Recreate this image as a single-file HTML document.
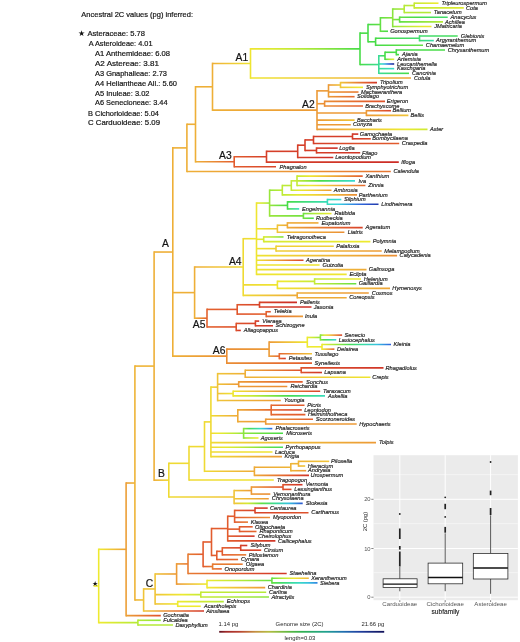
<!DOCTYPE html>
<html><head><meta charset="utf-8"><title>Ancestral 2C values</title>
<style>
html,body{margin:0;padding:0;background:#fff;}
body{width:520px;height:642px;overflow:hidden;}
svg{display:block;font-family:"Liberation Sans",sans-serif;will-change:transform;}
</style></head>
<body>
<svg width="520" height="642" viewBox="0 0 520 642">
<rect x="0" y="0" width="520" height="642" fill="#fff"/>
<!-- header legend -->
<g font-size="7.8" fill="#141414" stroke="#141414" stroke-width="0.2">
<text x="81.3" y="17.3" textLength="111.7" lengthAdjust="spacingAndGlyphs">Ancestral 2C values (pg) inferred:</text>
<text x="87.5" y="35.9" textLength="57.5" lengthAdjust="spacingAndGlyphs">Asteraceae:  5.78</text>
<text x="88.8" y="46.3" textLength="63.7" lengthAdjust="spacingAndGlyphs">A Asteroideae: 4.01</text>
<text x="95" y="56.2" textLength="75" lengthAdjust="spacingAndGlyphs">A1 Anthemideae: 6.08</text>
<text x="95" y="66" textLength="64" lengthAdjust="spacingAndGlyphs">A2 Astereae: 3.81</text>
<text x="95" y="76" textLength="72" lengthAdjust="spacingAndGlyphs">A3 Gnaphalieae: 2.73</text>
<text x="95" y="85.5" textLength="82" lengthAdjust="spacingAndGlyphs">A4 Heliantheae All.: 5.60</text>
<text x="95" y="95.8" textLength="54.5" lengthAdjust="spacingAndGlyphs">A5 Inuleae: 3.02</text>
<text x="95" y="105.3" textLength="72.5" lengthAdjust="spacingAndGlyphs">A6 Senecioneae: 3.44</text>
<text x="88" y="115.8" textLength="71" lengthAdjust="spacingAndGlyphs">B Cichorioideae: 5.04</text>
<text x="88" y="124.8" textLength="72" lengthAdjust="spacingAndGlyphs">C Carduoideae: 5.09</text>
</g>
<text x="78.1" y="35.9" font-size="7.8" fill="#111">&#9733;</text>

<defs><linearGradient id="g1" gradientUnits="userSpaceOnUse" x1="414.20" y1="0" x2="438.50" y2="0"><stop offset="0.00" stop-color="#c5ea36"/><stop offset="0.20" stop-color="#cdea35"/><stop offset="0.40" stop-color="#d5ea33"/><stop offset="0.60" stop-color="#ddea32"/><stop offset="0.80" stop-color="#e6ea31"/><stop offset="1.00" stop-color="#eeea30"/></linearGradient>
<linearGradient id="g2" gradientUnits="userSpaceOnUse" x1="414.20" y1="0" x2="463.80" y2="0"><stop offset="0.00" stop-color="#c5ea36"/><stop offset="0.20" stop-color="#caea35"/><stop offset="0.40" stop-color="#cfea34"/><stop offset="0.60" stop-color="#d3ea34"/><stop offset="0.80" stop-color="#d8ea33"/><stop offset="1.00" stop-color="#ddea32"/></linearGradient>
<linearGradient id="g3" gradientUnits="userSpaceOnUse" x1="404.20" y1="0" x2="414.20" y2="0"><stop offset="0.00" stop-color="#b4ea38"/><stop offset="0.20" stop-color="#b7ea38"/><stop offset="0.40" stop-color="#bbea37"/><stop offset="0.60" stop-color="#beea37"/><stop offset="0.80" stop-color="#c1ea36"/><stop offset="1.00" stop-color="#c5ea36"/></linearGradient>
<linearGradient id="g4" gradientUnits="userSpaceOnUse" x1="392.70" y1="0" x2="404.20" y2="0"><stop offset="0.00" stop-color="#8be53e"/><stop offset="0.20" stop-color="#94e63d"/><stop offset="0.40" stop-color="#9ce73c"/><stop offset="0.60" stop-color="#a4e83a"/><stop offset="0.80" stop-color="#ace939"/><stop offset="1.00" stop-color="#b4ea38"/></linearGradient>
<linearGradient id="g5" gradientUnits="userSpaceOnUse" x1="399.60" y1="0" x2="447.70" y2="0"><stop offset="0.00" stop-color="#63e044"/><stop offset="0.20" stop-color="#53dd46"/><stop offset="0.40" stop-color="#47dc4c"/><stop offset="0.60" stop-color="#45dc57"/><stop offset="0.80" stop-color="#44dc63"/><stop offset="1.00" stop-color="#42dc6e"/></linearGradient>
<linearGradient id="g6" gradientUnits="userSpaceOnUse" x1="399.60" y1="0" x2="443.00" y2="0"><stop offset="0.00" stop-color="#63e044"/><stop offset="0.20" stop-color="#73e242"/><stop offset="0.40" stop-color="#83e43f"/><stop offset="0.60" stop-color="#94e63d"/><stop offset="0.80" stop-color="#a4e83a"/><stop offset="1.00" stop-color="#b4ea38"/></linearGradient>
<linearGradient id="g7" gradientUnits="userSpaceOnUse" x1="392.70" y1="0" x2="399.60" y2="0"><stop offset="0.00" stop-color="#8be53e"/><stop offset="0.20" stop-color="#83e43f"/><stop offset="0.40" stop-color="#7be340"/><stop offset="0.60" stop-color="#73e242"/><stop offset="0.80" stop-color="#6be143"/><stop offset="1.00" stop-color="#63e044"/></linearGradient>
<linearGradient id="g8" gradientUnits="userSpaceOnUse" x1="392.70" y1="0" x2="431.50" y2="0"><stop offset="0.00" stop-color="#8be53e"/><stop offset="0.20" stop-color="#a9e93a"/><stop offset="0.40" stop-color="#c0ea36"/><stop offset="0.60" stop-color="#d2ea34"/><stop offset="0.80" stop-color="#e4ea31"/><stop offset="1.00" stop-color="#eee531"/></linearGradient>
<linearGradient id="g9" gradientUnits="userSpaceOnUse" x1="380.40" y1="0" x2="392.70" y2="0"><stop offset="0.00" stop-color="#63e044"/><stop offset="0.20" stop-color="#6be143"/><stop offset="0.40" stop-color="#73e242"/><stop offset="0.60" stop-color="#7be340"/><stop offset="0.80" stop-color="#83e43f"/><stop offset="1.00" stop-color="#8be53e"/></linearGradient>
<linearGradient id="g10" gradientUnits="userSpaceOnUse" x1="380.40" y1="0" x2="388.00" y2="0"><stop offset="0.00" stop-color="#63e044"/><stop offset="0.20" stop-color="#5edf45"/><stop offset="0.40" stop-color="#58de46"/><stop offset="0.60" stop-color="#53dd46"/><stop offset="0.80" stop-color="#4ddd47"/><stop offset="1.00" stop-color="#48dc48"/></linearGradient>
<linearGradient id="g11" gradientUnits="userSpaceOnUse" x1="368.00" y1="0" x2="380.40" y2="0"><stop offset="0.00" stop-color="#48dc48"/><stop offset="0.20" stop-color="#4ddd47"/><stop offset="0.40" stop-color="#53dd46"/><stop offset="0.60" stop-color="#58de46"/><stop offset="0.80" stop-color="#5edf45"/><stop offset="1.00" stop-color="#63e044"/></linearGradient>
<linearGradient id="g12" gradientUnits="userSpaceOnUse" x1="419.50" y1="0" x2="457.70" y2="0"><stop offset="0.00" stop-color="#42dc6e"/><stop offset="0.20" stop-color="#42dc6b"/><stop offset="0.40" stop-color="#43dc67"/><stop offset="0.60" stop-color="#44dc63"/><stop offset="0.80" stop-color="#44dc5f"/><stop offset="1.00" stop-color="#45dc5b"/></linearGradient>
<linearGradient id="g13" gradientUnits="userSpaceOnUse" x1="419.50" y1="0" x2="433.80" y2="0"><stop offset="0.00" stop-color="#42dc6e"/><stop offset="0.20" stop-color="#40dc7a"/><stop offset="0.40" stop-color="#3edc85"/><stop offset="0.60" stop-color="#3cdc91"/><stop offset="0.80" stop-color="#3adc9c"/><stop offset="1.00" stop-color="#38dca8"/></linearGradient>
<linearGradient id="g14" gradientUnits="userSpaceOnUse" x1="375.60" y1="0" x2="419.50" y2="0"><stop offset="0.00" stop-color="#48dc48"/><stop offset="0.20" stop-color="#47dc50"/><stop offset="0.40" stop-color="#45dc57"/><stop offset="0.60" stop-color="#44dc5f"/><stop offset="0.80" stop-color="#43dc67"/><stop offset="1.00" stop-color="#42dc6e"/></linearGradient>
<linearGradient id="g15" gradientUnits="userSpaceOnUse" x1="375.60" y1="0" x2="423.00" y2="0"><stop offset="0.00" stop-color="#48dc48"/><stop offset="0.20" stop-color="#4ddd47"/><stop offset="0.40" stop-color="#53dd46"/><stop offset="0.60" stop-color="#58de46"/><stop offset="0.80" stop-color="#5edf45"/><stop offset="1.00" stop-color="#63e044"/></linearGradient>
<linearGradient id="g16" gradientUnits="userSpaceOnUse" x1="385.00" y1="0" x2="394.20" y2="0"><stop offset="0.00" stop-color="#48dc48"/><stop offset="0.20" stop-color="#71e142"/><stop offset="0.40" stop-color="#99e63c"/><stop offset="0.60" stop-color="#bcea37"/><stop offset="0.80" stop-color="#d5ea33"/><stop offset="1.00" stop-color="#eeea30"/></linearGradient>
<linearGradient id="g17" gradientUnits="userSpaceOnUse" x1="378.80" y1="0" x2="385.00" y2="0"><stop offset="0.00" stop-color="#3bdc95"/><stop offset="0.20" stop-color="#3edc85"/><stop offset="0.40" stop-color="#40dc76"/><stop offset="0.60" stop-color="#43dc67"/><stop offset="0.80" stop-color="#45dc57"/><stop offset="1.00" stop-color="#48dc48"/></linearGradient>
<linearGradient id="g18" gradientUnits="userSpaceOnUse" x1="378.80" y1="0" x2="394.20" y2="0"><stop offset="0.00" stop-color="#3bdc95"/><stop offset="0.20" stop-color="#38daca"/><stop offset="0.40" stop-color="#35b2e0"/><stop offset="0.60" stop-color="#316ee0"/><stop offset="0.80" stop-color="#2748bd"/><stop offset="1.00" stop-color="#1c2a90"/></linearGradient>
<linearGradient id="g19" gradientUnits="userSpaceOnUse" x1="378.80" y1="0" x2="394.20" y2="0"><stop offset="0.00" stop-color="#3bdc95"/><stop offset="0.20" stop-color="#39dca0"/><stop offset="0.40" stop-color="#38dcac"/><stop offset="0.60" stop-color="#38dbb7"/><stop offset="0.80" stop-color="#38dac2"/><stop offset="1.00" stop-color="#38d9cd"/></linearGradient>
<linearGradient id="g20" gradientUnits="userSpaceOnUse" x1="378.80" y1="0" x2="409.00" y2="0"><stop offset="0.00" stop-color="#3bdc95"/><stop offset="0.20" stop-color="#3edc85"/><stop offset="0.40" stop-color="#40dc76"/><stop offset="0.60" stop-color="#43dc67"/><stop offset="0.80" stop-color="#45dc57"/><stop offset="1.00" stop-color="#48dc48"/></linearGradient>
<linearGradient id="g21" gradientUnits="userSpaceOnUse" x1="360.00" y1="0" x2="378.80" y2="0"><stop offset="0.00" stop-color="#48dc48"/><stop offset="0.20" stop-color="#45dc57"/><stop offset="0.40" stop-color="#43dc67"/><stop offset="0.60" stop-color="#40dc76"/><stop offset="0.80" stop-color="#3edc85"/><stop offset="1.00" stop-color="#3bdc95"/></linearGradient>
<linearGradient id="g22" gradientUnits="userSpaceOnUse" x1="250.50" y1="0" x2="360.00" y2="0"><stop offset="0.00" stop-color="#eee531"/><stop offset="0.20" stop-color="#dcea33"/><stop offset="0.40" stop-color="#c1ea36"/><stop offset="0.60" stop-color="#9ee73b"/><stop offset="0.80" stop-color="#73e242"/><stop offset="1.00" stop-color="#48dc48"/></linearGradient>
<linearGradient id="g23" gradientUnits="userSpaceOnUse" x1="250.50" y1="0" x2="411.00" y2="0"><stop offset="0.00" stop-color="#eee531"/><stop offset="0.20" stop-color="#efd834"/><stop offset="0.40" stop-color="#f0cb37"/><stop offset="0.60" stop-color="#efbe38"/><stop offset="0.80" stop-color="#eeb137"/><stop offset="1.00" stop-color="#eda436"/></linearGradient>
<linearGradient id="g24" gradientUnits="userSpaceOnUse" x1="212.50" y1="0" x2="250.50" y2="0"><stop offset="0.00" stop-color="#eeaf37"/><stop offset="0.20" stop-color="#efba38"/><stop offset="0.40" stop-color="#f0c438"/><stop offset="0.60" stop-color="#efcf36"/><stop offset="0.80" stop-color="#efda33"/><stop offset="1.00" stop-color="#eee531"/></linearGradient>
<linearGradient id="g25" gradientUnits="userSpaceOnUse" x1="340.50" y1="0" x2="377.00" y2="0"><stop offset="0.00" stop-color="#f0c438"/><stop offset="0.20" stop-color="#eda937"/><stop offset="0.40" stop-color="#ea8b34"/><stop offset="0.60" stop-color="#e46b30"/><stop offset="0.80" stop-color="#dc4f2c"/><stop offset="1.00" stop-color="#d03628"/></linearGradient>
<linearGradient id="g26" gradientUnits="userSpaceOnUse" x1="340.50" y1="0" x2="363.00" y2="0"><stop offset="0.00" stop-color="#f0c438"/><stop offset="0.20" stop-color="#f0cd36"/><stop offset="0.40" stop-color="#efd534"/><stop offset="0.60" stop-color="#efde33"/><stop offset="0.80" stop-color="#eee731"/><stop offset="1.00" stop-color="#e6ea31"/></linearGradient>
<linearGradient id="g27" gradientUnits="userSpaceOnUse" x1="328.50" y1="0" x2="340.50" y2="0"><stop offset="0.00" stop-color="#ec9a36"/><stop offset="0.20" stop-color="#eda236"/><stop offset="0.40" stop-color="#eeab37"/><stop offset="0.60" stop-color="#eeb337"/><stop offset="0.80" stop-color="#efbc38"/><stop offset="1.00" stop-color="#f0c438"/></linearGradient>
<linearGradient id="g28" gradientUnits="userSpaceOnUse" x1="328.50" y1="0" x2="358.50" y2="0"><stop offset="0.00" stop-color="#ec9a36"/><stop offset="0.20" stop-color="#eb9435"/><stop offset="0.40" stop-color="#ea8e34"/><stop offset="0.60" stop-color="#e98734"/><stop offset="0.80" stop-color="#e88133"/><stop offset="1.00" stop-color="#e77b32"/></linearGradient>
<linearGradient id="g29" gradientUnits="userSpaceOnUse" x1="328.50" y1="0" x2="354.60" y2="0"><stop offset="0.00" stop-color="#ec9a36"/><stop offset="0.20" stop-color="#ea9035"/><stop offset="0.40" stop-color="#e98633"/><stop offset="0.60" stop-color="#e77c32"/><stop offset="0.80" stop-color="#e67231"/><stop offset="1.00" stop-color="#e46830"/></linearGradient>
<linearGradient id="g30" gradientUnits="userSpaceOnUse" x1="324.60" y1="0" x2="385.00" y2="0"><stop offset="0.00" stop-color="#ea8e34"/><stop offset="0.20" stop-color="#e88133"/><stop offset="0.40" stop-color="#e67531"/><stop offset="0.60" stop-color="#e46830"/><stop offset="0.80" stop-color="#e25c2e"/><stop offset="1.00" stop-color="#de522c"/></linearGradient>
<linearGradient id="g31" gradientUnits="userSpaceOnUse" x1="324.60" y1="0" x2="363.00" y2="0"><stop offset="0.00" stop-color="#ea8e34"/><stop offset="0.20" stop-color="#e88433"/><stop offset="0.40" stop-color="#e77a32"/><stop offset="0.60" stop-color="#e57031"/><stop offset="0.80" stop-color="#e4662f"/><stop offset="1.00" stop-color="#e25c2e"/></linearGradient>
<linearGradient id="g32" gradientUnits="userSpaceOnUse" x1="317.00" y1="0" x2="324.60" y2="0"><stop offset="0.00" stop-color="#ec9a36"/><stop offset="0.20" stop-color="#ec9836"/><stop offset="0.40" stop-color="#eb9535"/><stop offset="0.60" stop-color="#eb9335"/><stop offset="0.80" stop-color="#ea9035"/><stop offset="1.00" stop-color="#ea8e34"/></linearGradient>
<linearGradient id="g33" gradientUnits="userSpaceOnUse" x1="366.40" y1="0" x2="391.00" y2="0"><stop offset="0.00" stop-color="#ec9a36"/><stop offset="0.20" stop-color="#e98734"/><stop offset="0.40" stop-color="#e67531"/><stop offset="0.60" stop-color="#e3622f"/><stop offset="0.80" stop-color="#de522c"/><stop offset="1.00" stop-color="#d7442a"/></linearGradient>
<linearGradient id="g34" gradientUnits="userSpaceOnUse" x1="366.40" y1="0" x2="408.40" y2="0"><stop offset="0.00" stop-color="#ec9a36"/><stop offset="0.20" stop-color="#eda236"/><stop offset="0.40" stop-color="#eeab37"/><stop offset="0.60" stop-color="#eeb337"/><stop offset="0.80" stop-color="#efbc38"/><stop offset="1.00" stop-color="#f0c438"/></linearGradient>
<linearGradient id="g35" gradientUnits="userSpaceOnUse" x1="317.00" y1="0" x2="354.60" y2="0"><stop offset="0.00" stop-color="#ec9a36"/><stop offset="0.20" stop-color="#eda236"/><stop offset="0.40" stop-color="#eeab37"/><stop offset="0.60" stop-color="#eeb337"/><stop offset="0.80" stop-color="#efbc38"/><stop offset="1.00" stop-color="#f0c438"/></linearGradient>
<linearGradient id="g36" gradientUnits="userSpaceOnUse" x1="317.00" y1="0" x2="427.50" y2="0"><stop offset="0.00" stop-color="#ec9a36"/><stop offset="0.20" stop-color="#eeae37"/><stop offset="0.40" stop-color="#f0c238"/><stop offset="0.60" stop-color="#efd634"/><stop offset="0.80" stop-color="#ecea30"/><stop offset="1.00" stop-color="#cdea35"/></linearGradient>
<linearGradient id="g37" gradientUnits="userSpaceOnUse" x1="212.50" y1="0" x2="317.00" y2="0"><stop offset="0.00" stop-color="#eeaf37"/><stop offset="0.20" stop-color="#eeab37"/><stop offset="0.40" stop-color="#eda737"/><stop offset="0.60" stop-color="#eda236"/><stop offset="0.80" stop-color="#ec9e36"/><stop offset="1.00" stop-color="#ec9a36"/></linearGradient>
<linearGradient id="g38" gradientUnits="userSpaceOnUse" x1="352.50" y1="0" x2="358.30" y2="0"><stop offset="0.00" stop-color="#d33a28"/><stop offset="0.20" stop-color="#d13828"/><stop offset="0.40" stop-color="#d03527"/><stop offset="0.60" stop-color="#cf3227"/><stop offset="0.80" stop-color="#cd2f26"/><stop offset="1.00" stop-color="#cc2c26"/></linearGradient>
<linearGradient id="g39" gradientUnits="userSpaceOnUse" x1="352.50" y1="0" x2="370.80" y2="0"><stop offset="0.00" stop-color="#d33a28"/><stop offset="0.20" stop-color="#d43d29"/><stop offset="0.40" stop-color="#d54029"/><stop offset="0.60" stop-color="#d7432a"/><stop offset="0.80" stop-color="#d8462a"/><stop offset="1.00" stop-color="#d9492b"/></linearGradient>
<linearGradient id="g40" gradientUnits="userSpaceOnUse" x1="313.50" y1="0" x2="399.20" y2="0"><stop offset="0.00" stop-color="#d53f29"/><stop offset="0.20" stop-color="#d7452a"/><stop offset="0.40" stop-color="#da4b2b"/><stop offset="0.60" stop-color="#dd502c"/><stop offset="0.80" stop-color="#df562d"/><stop offset="1.00" stop-color="#e25c2e"/></linearGradient>
<linearGradient id="g41" gradientUnits="userSpaceOnUse" x1="316.50" y1="0" x2="337.70" y2="0"><stop offset="0.00" stop-color="#d53f29"/><stop offset="0.20" stop-color="#d33b29"/><stop offset="0.40" stop-color="#d13828"/><stop offset="0.60" stop-color="#d03427"/><stop offset="0.80" stop-color="#ce3027"/><stop offset="1.00" stop-color="#cc2c26"/></linearGradient>
<linearGradient id="g42" gradientUnits="userSpaceOnUse" x1="316.50" y1="0" x2="360.20" y2="0"><stop offset="0.00" stop-color="#d53f29"/><stop offset="0.20" stop-color="#d43d29"/><stop offset="0.40" stop-color="#d33b29"/><stop offset="0.60" stop-color="#d23928"/><stop offset="0.80" stop-color="#d13828"/><stop offset="1.00" stop-color="#d03628"/></linearGradient>
<linearGradient id="g43" gradientUnits="userSpaceOnUse" x1="297.70" y1="0" x2="333.30" y2="0"><stop offset="0.00" stop-color="#d53f29"/><stop offset="0.20" stop-color="#d33b29"/><stop offset="0.40" stop-color="#d13828"/><stop offset="0.60" stop-color="#d03427"/><stop offset="0.80" stop-color="#ce3027"/><stop offset="1.00" stop-color="#cc2c26"/></linearGradient>
<linearGradient id="g44" gradientUnits="userSpaceOnUse" x1="266.50" y1="0" x2="398.80" y2="0"><stop offset="0.00" stop-color="#d53f29"/><stop offset="0.20" stop-color="#d33b29"/><stop offset="0.40" stop-color="#d13828"/><stop offset="0.60" stop-color="#d03427"/><stop offset="0.80" stop-color="#ce3027"/><stop offset="1.00" stop-color="#cc2c26"/></linearGradient>
<linearGradient id="g45" gradientUnits="userSpaceOnUse" x1="234.20" y1="0" x2="266.50" y2="0"><stop offset="0.00" stop-color="#e25c2e"/><stop offset="0.20" stop-color="#df562d"/><stop offset="0.40" stop-color="#dd502c"/><stop offset="0.60" stop-color="#da4b2b"/><stop offset="0.80" stop-color="#d7452a"/><stop offset="1.00" stop-color="#d53f29"/></linearGradient>
<linearGradient id="g46" gradientUnits="userSpaceOnUse" x1="234.20" y1="0" x2="276.00" y2="0"><stop offset="0.00" stop-color="#e25c2e"/><stop offset="0.20" stop-color="#e0572d"/><stop offset="0.40" stop-color="#de522c"/><stop offset="0.60" stop-color="#db4e2c"/><stop offset="0.80" stop-color="#d9492b"/><stop offset="1.00" stop-color="#d7442a"/></linearGradient>
<linearGradient id="g47" gradientUnits="userSpaceOnUse" x1="195.50" y1="0" x2="234.20" y2="0"><stop offset="0.00" stop-color="#eeaf37"/><stop offset="0.20" stop-color="#eda036"/><stop offset="0.40" stop-color="#ea9035"/><stop offset="0.60" stop-color="#e87f32"/><stop offset="0.80" stop-color="#e56d30"/><stop offset="1.00" stop-color="#e25c2e"/></linearGradient>
<linearGradient id="g48" gradientUnits="userSpaceOnUse" x1="186.90" y1="0" x2="390.80" y2="0"><stop offset="0.00" stop-color="#eeaf37"/><stop offset="0.20" stop-color="#eda436"/><stop offset="0.40" stop-color="#ec9a36"/><stop offset="0.60" stop-color="#ea8e34"/><stop offset="0.80" stop-color="#e88133"/><stop offset="1.00" stop-color="#e67531"/></linearGradient>
<linearGradient id="g49" gradientUnits="userSpaceOnUse" x1="297.00" y1="0" x2="362.70" y2="0"><stop offset="0.00" stop-color="#c5ea36"/><stop offset="0.20" stop-color="#eee531"/><stop offset="0.40" stop-color="#f0c438"/><stop offset="0.60" stop-color="#eda436"/><stop offset="0.80" stop-color="#e88133"/><stop offset="1.00" stop-color="#e25c2e"/></linearGradient>
<linearGradient id="g50" gradientUnits="userSpaceOnUse" x1="297.00" y1="0" x2="355.00" y2="0"><stop offset="0.00" stop-color="#c5ea36"/><stop offset="0.20" stop-color="#8be53e"/><stop offset="0.40" stop-color="#48dc48"/><stop offset="0.60" stop-color="#40dc78"/><stop offset="0.80" stop-color="#38dca8"/><stop offset="1.00" stop-color="#38d9d7"/></linearGradient>
<linearGradient id="g51" gradientUnits="userSpaceOnUse" x1="297.00" y1="0" x2="365.40" y2="0"><stop offset="0.00" stop-color="#c5ea36"/><stop offset="0.20" stop-color="#eee731"/><stop offset="0.40" stop-color="#f0c837"/><stop offset="0.60" stop-color="#eeab37"/><stop offset="0.80" stop-color="#ea8b34"/><stop offset="1.00" stop-color="#e46830"/></linearGradient>
<linearGradient id="g52" gradientUnits="userSpaceOnUse" x1="291.30" y1="0" x2="331.50" y2="0"><stop offset="0.00" stop-color="#c5ea36"/><stop offset="0.20" stop-color="#e6ea31"/><stop offset="0.40" stop-color="#efda33"/><stop offset="0.60" stop-color="#f0c438"/><stop offset="0.80" stop-color="#eeaf37"/><stop offset="1.00" stop-color="#ec9a36"/></linearGradient>
<linearGradient id="g53" gradientUnits="userSpaceOnUse" x1="282.30" y1="0" x2="357.00" y2="0"><stop offset="0.00" stop-color="#bcea37"/><stop offset="0.20" stop-color="#e2ea32"/><stop offset="0.40" stop-color="#efd934"/><stop offset="0.60" stop-color="#f0c038"/><stop offset="0.80" stop-color="#eda837"/><stop offset="1.00" stop-color="#ea8e34"/></linearGradient>
<linearGradient id="g54" gradientUnits="userSpaceOnUse" x1="269.60" y1="0" x2="282.30" y2="0"><stop offset="0.00" stop-color="#99e63c"/><stop offset="0.20" stop-color="#a1e83b"/><stop offset="0.40" stop-color="#a9e93a"/><stop offset="0.60" stop-color="#b1ea38"/><stop offset="0.80" stop-color="#b7ea38"/><stop offset="1.00" stop-color="#bcea37"/></linearGradient>
<linearGradient id="g55" gradientUnits="userSpaceOnUse" x1="327.40" y1="0" x2="341.30" y2="0"><stop offset="0.00" stop-color="#38dbbb"/><stop offset="0.20" stop-color="#38dac0"/><stop offset="0.40" stop-color="#38dac6"/><stop offset="0.60" stop-color="#38d9cb"/><stop offset="0.80" stop-color="#38d9d1"/><stop offset="1.00" stop-color="#38d9d7"/></linearGradient>
<linearGradient id="g56" gradientUnits="userSpaceOnUse" x1="327.40" y1="0" x2="378.50" y2="0"><stop offset="0.00" stop-color="#38dbbb"/><stop offset="0.20" stop-color="#38d6e0"/><stop offset="0.40" stop-color="#34a3e0"/><stop offset="0.60" stop-color="#3171e0"/><stop offset="0.80" stop-color="#2a51ca"/><stop offset="1.00" stop-color="#223aa8"/></linearGradient>
<linearGradient id="g57" gradientUnits="userSpaceOnUse" x1="287.50" y1="0" x2="327.40" y2="0"><stop offset="0.00" stop-color="#48dc48"/><stop offset="0.20" stop-color="#44dc5f"/><stop offset="0.40" stop-color="#40dc76"/><stop offset="0.60" stop-color="#3cdc8d"/><stop offset="0.80" stop-color="#39dca4"/><stop offset="1.00" stop-color="#38dbbb"/></linearGradient>
<linearGradient id="g58" gradientUnits="userSpaceOnUse" x1="287.50" y1="0" x2="299.20" y2="0"><stop offset="0.00" stop-color="#48dc48"/><stop offset="0.20" stop-color="#44dc5f"/><stop offset="0.40" stop-color="#40dc76"/><stop offset="0.60" stop-color="#3cdc8d"/><stop offset="0.80" stop-color="#39dca4"/><stop offset="1.00" stop-color="#38dbbb"/></linearGradient>
<linearGradient id="g59" gradientUnits="userSpaceOnUse" x1="269.60" y1="0" x2="287.50" y2="0"><stop offset="0.00" stop-color="#99e63c"/><stop offset="0.20" stop-color="#89e43e"/><stop offset="0.40" stop-color="#79e241"/><stop offset="0.60" stop-color="#68e043"/><stop offset="0.80" stop-color="#58de46"/><stop offset="1.00" stop-color="#48dc48"/></linearGradient>
<linearGradient id="g60" gradientUnits="userSpaceOnUse" x1="303.40" y1="0" x2="331.50" y2="0"><stop offset="0.00" stop-color="#71e142"/><stop offset="0.20" stop-color="#91e53d"/><stop offset="0.40" stop-color="#b1ea38"/><stop offset="0.60" stop-color="#c6ea35"/><stop offset="0.80" stop-color="#daea33"/><stop offset="1.00" stop-color="#eeea30"/></linearGradient>
<linearGradient id="g61" gradientUnits="userSpaceOnUse" x1="303.40" y1="0" x2="313.80" y2="0"><stop offset="0.00" stop-color="#71e142"/><stop offset="0.20" stop-color="#68e043"/><stop offset="0.40" stop-color="#60df44"/><stop offset="0.60" stop-color="#58de46"/><stop offset="0.80" stop-color="#50dd47"/><stop offset="1.00" stop-color="#48dc48"/></linearGradient>
<linearGradient id="g62" gradientUnits="userSpaceOnUse" x1="269.60" y1="0" x2="303.40" y2="0"><stop offset="0.00" stop-color="#99e63c"/><stop offset="0.20" stop-color="#91e53d"/><stop offset="0.40" stop-color="#89e43e"/><stop offset="0.60" stop-color="#81e340"/><stop offset="0.80" stop-color="#79e241"/><stop offset="1.00" stop-color="#71e142"/></linearGradient>
<linearGradient id="g63" gradientUnits="userSpaceOnUse" x1="256.50" y1="0" x2="269.60" y2="0"><stop offset="0.00" stop-color="#eee531"/><stop offset="0.20" stop-color="#e6ea31"/><stop offset="0.40" stop-color="#d5ea33"/><stop offset="0.60" stop-color="#c5ea36"/><stop offset="0.80" stop-color="#b4ea38"/><stop offset="1.00" stop-color="#99e63c"/></linearGradient>
<linearGradient id="g64" gradientUnits="userSpaceOnUse" x1="287.40" y1="0" x2="362.70" y2="0"><stop offset="0.00" stop-color="#eeaa37"/><stop offset="0.20" stop-color="#eb9636"/><stop offset="0.40" stop-color="#e88033"/><stop offset="0.60" stop-color="#e46a30"/><stop offset="0.80" stop-color="#df552d"/><stop offset="1.00" stop-color="#d7442a"/></linearGradient>
<linearGradient id="g65" gradientUnits="userSpaceOnUse" x1="277.40" y1="0" x2="287.40" y2="0"><stop offset="0.00" stop-color="#f0c438"/><stop offset="0.20" stop-color="#f0bf38"/><stop offset="0.40" stop-color="#efba38"/><stop offset="0.60" stop-color="#eeb437"/><stop offset="0.80" stop-color="#eeaf37"/><stop offset="1.00" stop-color="#eeaa37"/></linearGradient>
<linearGradient id="g66" gradientUnits="userSpaceOnUse" x1="277.40" y1="0" x2="344.40" y2="0"><stop offset="0.00" stop-color="#f0c438"/><stop offset="0.20" stop-color="#efba38"/><stop offset="0.40" stop-color="#eeaf37"/><stop offset="0.60" stop-color="#eda436"/><stop offset="0.80" stop-color="#ec9a36"/><stop offset="1.00" stop-color="#ea8e34"/></linearGradient>
<linearGradient id="g67" gradientUnits="userSpaceOnUse" x1="256.50" y1="0" x2="277.40" y2="0"><stop offset="0.00" stop-color="#eee531"/><stop offset="0.20" stop-color="#efde33"/><stop offset="0.40" stop-color="#efd834"/><stop offset="0.60" stop-color="#efd135"/><stop offset="0.80" stop-color="#f0cb37"/><stop offset="1.00" stop-color="#f0c438"/></linearGradient>
<linearGradient id="g68" gradientUnits="userSpaceOnUse" x1="263.70" y1="0" x2="283.50" y2="0"><stop offset="0.00" stop-color="#d5ea33"/><stop offset="0.20" stop-color="#c8ea35"/><stop offset="0.40" stop-color="#bbea37"/><stop offset="0.60" stop-color="#a9e93a"/><stop offset="0.80" stop-color="#94e63d"/><stop offset="1.00" stop-color="#7ee340"/></linearGradient>
<linearGradient id="g69" gradientUnits="userSpaceOnUse" x1="263.70" y1="0" x2="370.40" y2="0"><stop offset="0.00" stop-color="#d5ea33"/><stop offset="0.20" stop-color="#daea33"/><stop offset="0.40" stop-color="#dfea32"/><stop offset="0.60" stop-color="#e4ea31"/><stop offset="0.80" stop-color="#e9ea31"/><stop offset="1.00" stop-color="#eeea30"/></linearGradient>
<linearGradient id="g70" gradientUnits="userSpaceOnUse" x1="256.50" y1="0" x2="263.70" y2="0"><stop offset="0.00" stop-color="#eee531"/><stop offset="0.20" stop-color="#eee930"/><stop offset="0.40" stop-color="#e9ea31"/><stop offset="0.60" stop-color="#e2ea32"/><stop offset="0.80" stop-color="#dcea33"/><stop offset="1.00" stop-color="#d5ea33"/></linearGradient>
<linearGradient id="g71" gradientUnits="userSpaceOnUse" x1="276.00" y1="0" x2="381.70" y2="0"><stop offset="0.00" stop-color="#efcf36"/><stop offset="0.20" stop-color="#f0c438"/><stop offset="0.40" stop-color="#efba38"/><stop offset="0.60" stop-color="#eeaf37"/><stop offset="0.80" stop-color="#eda436"/><stop offset="1.00" stop-color="#ec9a36"/></linearGradient>
<linearGradient id="g72" gradientUnits="userSpaceOnUse" x1="256.50" y1="0" x2="276.00" y2="0"><stop offset="0.00" stop-color="#eee531"/><stop offset="0.20" stop-color="#efe032"/><stop offset="0.40" stop-color="#efdc33"/><stop offset="0.60" stop-color="#efd834"/><stop offset="0.80" stop-color="#efd335"/><stop offset="1.00" stop-color="#efcf36"/></linearGradient>
<linearGradient id="g73" gradientUnits="userSpaceOnUse" x1="256.50" y1="0" x2="397.10" y2="0"><stop offset="0.00" stop-color="#eee531"/><stop offset="0.20" stop-color="#efd335"/><stop offset="0.40" stop-color="#f0c238"/><stop offset="0.60" stop-color="#eeb137"/><stop offset="0.80" stop-color="#eda036"/><stop offset="1.00" stop-color="#ea8e34"/></linearGradient>
<linearGradient id="g74" gradientUnits="userSpaceOnUse" x1="256.50" y1="0" x2="303.50" y2="0"><stop offset="0.00" stop-color="#eee531"/><stop offset="0.20" stop-color="#f0c538"/><stop offset="0.40" stop-color="#eda737"/><stop offset="0.60" stop-color="#e98533"/><stop offset="0.80" stop-color="#e3612f"/><stop offset="1.00" stop-color="#d7442a"/></linearGradient>
<linearGradient id="g75" gradientUnits="userSpaceOnUse" x1="256.50" y1="0" x2="366.50" y2="0"><stop offset="0.00" stop-color="#eee531"/><stop offset="0.20" stop-color="#efd934"/><stop offset="0.40" stop-color="#f0cd36"/><stop offset="0.60" stop-color="#f0c138"/><stop offset="0.80" stop-color="#efb537"/><stop offset="1.00" stop-color="#eeaa37"/></linearGradient>
<linearGradient id="g76" gradientUnits="userSpaceOnUse" x1="243.20" y1="0" x2="256.50" y2="0"><stop offset="0.00" stop-color="#efda33"/><stop offset="0.20" stop-color="#efdc33"/><stop offset="0.40" stop-color="#efde33"/><stop offset="0.60" stop-color="#efe032"/><stop offset="0.80" stop-color="#eee232"/><stop offset="1.00" stop-color="#eee531"/></linearGradient>
<linearGradient id="g77" gradientUnits="userSpaceOnUse" x1="314.60" y1="0" x2="361.00" y2="0"><stop offset="0.00" stop-color="#c5ea36"/><stop offset="0.20" stop-color="#cdea35"/><stop offset="0.40" stop-color="#d5ea33"/><stop offset="0.60" stop-color="#ddea32"/><stop offset="0.80" stop-color="#e6ea31"/><stop offset="1.00" stop-color="#eeea30"/></linearGradient>
<linearGradient id="g78" gradientUnits="userSpaceOnUse" x1="314.60" y1="0" x2="356.30" y2="0"><stop offset="0.00" stop-color="#c5ea36"/><stop offset="0.20" stop-color="#b7ea38"/><stop offset="0.40" stop-color="#a4e83a"/><stop offset="0.60" stop-color="#8ee53e"/><stop offset="0.80" stop-color="#79e241"/><stop offset="1.00" stop-color="#63e044"/></linearGradient>
<linearGradient id="g79" gradientUnits="userSpaceOnUse" x1="277.40" y1="0" x2="314.60" y2="0"><stop offset="0.00" stop-color="#eee531"/><stop offset="0.20" stop-color="#ecea30"/><stop offset="0.40" stop-color="#e2ea32"/><stop offset="0.60" stop-color="#d8ea33"/><stop offset="0.80" stop-color="#cfea34"/><stop offset="1.00" stop-color="#c5ea36"/></linearGradient>
<linearGradient id="g80" gradientUnits="userSpaceOnUse" x1="277.40" y1="0" x2="390.00" y2="0"><stop offset="0.00" stop-color="#eee531"/><stop offset="0.20" stop-color="#efd834"/><stop offset="0.40" stop-color="#f0cb37"/><stop offset="0.60" stop-color="#efbe38"/><stop offset="0.80" stop-color="#eeb137"/><stop offset="1.00" stop-color="#eda436"/></linearGradient>
<linearGradient id="g81" gradientUnits="userSpaceOnUse" x1="243.20" y1="0" x2="277.40" y2="0"><stop offset="0.00" stop-color="#efda33"/><stop offset="0.20" stop-color="#efdc33"/><stop offset="0.40" stop-color="#efde33"/><stop offset="0.60" stop-color="#efe032"/><stop offset="0.80" stop-color="#eee232"/><stop offset="1.00" stop-color="#eee531"/></linearGradient>
<linearGradient id="g82" gradientUnits="userSpaceOnUse" x1="297.20" y1="0" x2="368.80" y2="0"><stop offset="0.00" stop-color="#eeaa37"/><stop offset="0.20" stop-color="#eda737"/><stop offset="0.40" stop-color="#eda336"/><stop offset="0.60" stop-color="#eda036"/><stop offset="0.80" stop-color="#ec9d36"/><stop offset="1.00" stop-color="#ec9a36"/></linearGradient>
<linearGradient id="g83" gradientUnits="userSpaceOnUse" x1="243.20" y1="0" x2="297.20" y2="0"><stop offset="0.00" stop-color="#efda33"/><stop offset="0.20" stop-color="#efd035"/><stop offset="0.40" stop-color="#f0c638"/><stop offset="0.60" stop-color="#efbd38"/><stop offset="0.80" stop-color="#eeb337"/><stop offset="1.00" stop-color="#eeaa37"/></linearGradient>
<linearGradient id="g84" gradientUnits="userSpaceOnUse" x1="194.60" y1="0" x2="243.20" y2="0"><stop offset="0.00" stop-color="#eeaf37"/><stop offset="0.20" stop-color="#efb737"/><stop offset="0.40" stop-color="#f0c038"/><stop offset="0.60" stop-color="#f0c837"/><stop offset="0.80" stop-color="#efd135"/><stop offset="1.00" stop-color="#efda33"/></linearGradient>
<linearGradient id="g85" gradientUnits="userSpaceOnUse" x1="259.50" y1="0" x2="297.00" y2="0"><stop offset="0.00" stop-color="#d7442a"/><stop offset="0.20" stop-color="#d53f29"/><stop offset="0.40" stop-color="#d33a28"/><stop offset="0.60" stop-color="#d03628"/><stop offset="0.80" stop-color="#ce3127"/><stop offset="1.00" stop-color="#cc2c26"/></linearGradient>
<linearGradient id="g86" gradientUnits="userSpaceOnUse" x1="259.50" y1="0" x2="311.50" y2="0"><stop offset="0.00" stop-color="#d7442a"/><stop offset="0.20" stop-color="#d53f29"/><stop offset="0.40" stop-color="#d33a28"/><stop offset="0.60" stop-color="#d03628"/><stop offset="0.80" stop-color="#ce3127"/><stop offset="1.00" stop-color="#cc2c26"/></linearGradient>
<linearGradient id="g87" gradientUnits="userSpaceOnUse" x1="237.20" y1="0" x2="259.50" y2="0"><stop offset="0.00" stop-color="#e0572d"/><stop offset="0.20" stop-color="#de532d"/><stop offset="0.40" stop-color="#dc502c"/><stop offset="0.60" stop-color="#db4c2b"/><stop offset="0.80" stop-color="#d9482b"/><stop offset="1.00" stop-color="#d7442a"/></linearGradient>
<linearGradient id="g88" gradientUnits="userSpaceOnUse" x1="266.20" y1="0" x2="270.80" y2="0"><stop offset="0.00" stop-color="#e3622f"/><stop offset="0.20" stop-color="#e25e2e"/><stop offset="0.40" stop-color="#e25b2e"/><stop offset="0.60" stop-color="#e0582d"/><stop offset="0.80" stop-color="#df552d"/><stop offset="1.00" stop-color="#de522c"/></linearGradient>
<linearGradient id="g89" gradientUnits="userSpaceOnUse" x1="266.20" y1="0" x2="303.00" y2="0"><stop offset="0.00" stop-color="#e3622f"/><stop offset="0.20" stop-color="#e56d30"/><stop offset="0.40" stop-color="#e77932"/><stop offset="0.60" stop-color="#e88433"/><stop offset="0.80" stop-color="#ea8f35"/><stop offset="1.00" stop-color="#ec9a36"/></linearGradient>
<linearGradient id="g90" gradientUnits="userSpaceOnUse" x1="237.20" y1="0" x2="266.20" y2="0"><stop offset="0.00" stop-color="#e0572d"/><stop offset="0.20" stop-color="#e1592e"/><stop offset="0.40" stop-color="#e25b2e"/><stop offset="0.60" stop-color="#e25d2e"/><stop offset="0.80" stop-color="#e3602e"/><stop offset="1.00" stop-color="#e3622f"/></linearGradient>
<linearGradient id="g91" gradientUnits="userSpaceOnUse" x1="207.00" y1="0" x2="237.20" y2="0"><stop offset="0.00" stop-color="#e3622f"/><stop offset="0.20" stop-color="#e3602e"/><stop offset="0.40" stop-color="#e25d2e"/><stop offset="0.60" stop-color="#e25b2e"/><stop offset="0.80" stop-color="#e1592e"/><stop offset="1.00" stop-color="#e0572d"/></linearGradient>
<linearGradient id="g92" gradientUnits="userSpaceOnUse" x1="255.40" y1="0" x2="259.20" y2="0"><stop offset="0.00" stop-color="#d7442a"/><stop offset="0.20" stop-color="#d53f29"/><stop offset="0.40" stop-color="#d33a28"/><stop offset="0.60" stop-color="#d03628"/><stop offset="0.80" stop-color="#ce3127"/><stop offset="1.00" stop-color="#cc2c26"/></linearGradient>
<linearGradient id="g93" gradientUnits="userSpaceOnUse" x1="255.40" y1="0" x2="273.00" y2="0"><stop offset="0.00" stop-color="#d7442a"/><stop offset="0.20" stop-color="#d6412a"/><stop offset="0.40" stop-color="#d43e29"/><stop offset="0.60" stop-color="#d33b29"/><stop offset="0.80" stop-color="#d23828"/><stop offset="1.00" stop-color="#d03628"/></linearGradient>
<linearGradient id="g94" gradientUnits="userSpaceOnUse" x1="236.20" y1="0" x2="255.40" y2="0"><stop offset="0.00" stop-color="#de522c"/><stop offset="0.20" stop-color="#dc502c"/><stop offset="0.40" stop-color="#db4d2b"/><stop offset="0.60" stop-color="#da4a2b"/><stop offset="0.80" stop-color="#d8472a"/><stop offset="1.00" stop-color="#d7442a"/></linearGradient>
<linearGradient id="g95" gradientUnits="userSpaceOnUse" x1="236.20" y1="0" x2="240.80" y2="0"><stop offset="0.00" stop-color="#de522c"/><stop offset="0.20" stop-color="#da4b2b"/><stop offset="0.40" stop-color="#d7432a"/><stop offset="0.60" stop-color="#d33b29"/><stop offset="0.80" stop-color="#d03427"/><stop offset="1.00" stop-color="#cc2c26"/></linearGradient>
<linearGradient id="g96" gradientUnits="userSpaceOnUse" x1="207.00" y1="0" x2="236.20" y2="0"><stop offset="0.00" stop-color="#e3622f"/><stop offset="0.20" stop-color="#e25e2e"/><stop offset="0.40" stop-color="#e25b2e"/><stop offset="0.60" stop-color="#e0582d"/><stop offset="0.80" stop-color="#df552d"/><stop offset="1.00" stop-color="#de522c"/></linearGradient>
<linearGradient id="g97" gradientUnits="userSpaceOnUse" x1="194.60" y1="0" x2="207.00" y2="0"><stop offset="0.00" stop-color="#eeaf37"/><stop offset="0.20" stop-color="#eda136"/><stop offset="0.40" stop-color="#eb9335"/><stop offset="0.60" stop-color="#e88233"/><stop offset="0.80" stop-color="#e67231"/><stop offset="1.00" stop-color="#e3622f"/></linearGradient>
<linearGradient id="g98" gradientUnits="userSpaceOnUse" x1="320.40" y1="0" x2="342.10" y2="0"><stop offset="0.00" stop-color="#8be53e"/><stop offset="0.20" stop-color="#ddea32"/><stop offset="0.40" stop-color="#f0c937"/><stop offset="0.60" stop-color="#ec9f36"/><stop offset="0.80" stop-color="#e56f30"/><stop offset="1.00" stop-color="#d7442a"/></linearGradient>
<linearGradient id="g99" gradientUnits="userSpaceOnUse" x1="320.40" y1="0" x2="336.30" y2="0"><stop offset="0.00" stop-color="#8be53e"/><stop offset="0.20" stop-color="#55de46"/><stop offset="0.40" stop-color="#43dc65"/><stop offset="0.60" stop-color="#3ddc8b"/><stop offset="0.80" stop-color="#38dbb1"/><stop offset="1.00" stop-color="#38d9d7"/></linearGradient>
<linearGradient id="g100" gradientUnits="userSpaceOnUse" x1="307.30" y1="0" x2="320.40" y2="0"><stop offset="0.00" stop-color="#eeea30"/><stop offset="0.20" stop-color="#ddea32"/><stop offset="0.40" stop-color="#cdea35"/><stop offset="0.60" stop-color="#bcea37"/><stop offset="0.80" stop-color="#a6e83a"/><stop offset="1.00" stop-color="#8be53e"/></linearGradient>
<linearGradient id="g101" gradientUnits="userSpaceOnUse" x1="322.00" y1="0" x2="391.00" y2="0"><stop offset="0.00" stop-color="#eeea30"/><stop offset="0.20" stop-color="#a4e83a"/><stop offset="0.40" stop-color="#46dc55"/><stop offset="0.60" stop-color="#39dca4"/><stop offset="0.80" stop-color="#37c2e0"/><stop offset="1.00" stop-color="#3060e0"/></linearGradient>
<linearGradient id="g102" gradientUnits="userSpaceOnUse" x1="322.00" y1="0" x2="334.40" y2="0"><stop offset="0.00" stop-color="#eeea30"/><stop offset="0.20" stop-color="#efcf36"/><stop offset="0.40" stop-color="#eeb437"/><stop offset="0.60" stop-color="#ec9a36"/><stop offset="0.80" stop-color="#e77b32"/><stop offset="1.00" stop-color="#e25c2e"/></linearGradient>
<linearGradient id="g103" gradientUnits="userSpaceOnUse" x1="269.10" y1="0" x2="307.30" y2="0"><stop offset="0.00" stop-color="#ec9a36"/><stop offset="0.20" stop-color="#eeaa37"/><stop offset="0.40" stop-color="#efba38"/><stop offset="0.60" stop-color="#f0c937"/><stop offset="0.80" stop-color="#efda33"/><stop offset="1.00" stop-color="#eeea30"/></linearGradient>
<linearGradient id="g104" gradientUnits="userSpaceOnUse" x1="279.30" y1="0" x2="312.00" y2="0"><stop offset="0.00" stop-color="#e46830"/><stop offset="0.20" stop-color="#e77c32"/><stop offset="0.40" stop-color="#ea9035"/><stop offset="0.60" stop-color="#eda236"/><stop offset="0.80" stop-color="#eeb337"/><stop offset="1.00" stop-color="#f0c438"/></linearGradient>
<linearGradient id="g105" gradientUnits="userSpaceOnUse" x1="279.30" y1="0" x2="285.80" y2="0"><stop offset="0.00" stop-color="#e46830"/><stop offset="0.20" stop-color="#e25c2e"/><stop offset="0.40" stop-color="#de522c"/><stop offset="0.60" stop-color="#d9492b"/><stop offset="0.80" stop-color="#d53f29"/><stop offset="1.00" stop-color="#d03628"/></linearGradient>
<linearGradient id="g106" gradientUnits="userSpaceOnUse" x1="269.10" y1="0" x2="279.30" y2="0"><stop offset="0.00" stop-color="#ec9a36"/><stop offset="0.20" stop-color="#ea9035"/><stop offset="0.40" stop-color="#e98633"/><stop offset="0.60" stop-color="#e77c32"/><stop offset="0.80" stop-color="#e67231"/><stop offset="1.00" stop-color="#e46830"/></linearGradient>
<linearGradient id="g107" gradientUnits="userSpaceOnUse" x1="226.80" y1="0" x2="269.10" y2="0"><stop offset="0.00" stop-color="#ea8e34"/><stop offset="0.20" stop-color="#ea9035"/><stop offset="0.40" stop-color="#eb9335"/><stop offset="0.60" stop-color="#eb9535"/><stop offset="0.80" stop-color="#ec9836"/><stop offset="1.00" stop-color="#ec9a36"/></linearGradient>
<linearGradient id="g108" gradientUnits="userSpaceOnUse" x1="226.80" y1="0" x2="312.00" y2="0"><stop offset="0.00" stop-color="#ea8e34"/><stop offset="0.20" stop-color="#e88433"/><stop offset="0.40" stop-color="#e77a32"/><stop offset="0.60" stop-color="#e57031"/><stop offset="0.80" stop-color="#e4662f"/><stop offset="1.00" stop-color="#e25c2e"/></linearGradient>
<linearGradient id="g109" gradientUnits="userSpaceOnUse" x1="172.80" y1="0" x2="226.80" y2="0"><stop offset="0.00" stop-color="#eeaf37"/><stop offset="0.20" stop-color="#eda937"/><stop offset="0.40" stop-color="#eda236"/><stop offset="0.60" stop-color="#ec9c36"/><stop offset="0.80" stop-color="#eb9535"/><stop offset="1.00" stop-color="#ea8e34"/></linearGradient>
<linearGradient id="g110" gradientUnits="userSpaceOnUse" x1="301.20" y1="0" x2="383.50" y2="0"><stop offset="0.00" stop-color="#de522c"/><stop offset="0.20" stop-color="#db4d2b"/><stop offset="0.40" stop-color="#d8472a"/><stop offset="0.60" stop-color="#d6412a"/><stop offset="0.80" stop-color="#d33b29"/><stop offset="1.00" stop-color="#d03628"/></linearGradient>
<linearGradient id="g111" gradientUnits="userSpaceOnUse" x1="301.20" y1="0" x2="322.00" y2="0"><stop offset="0.00" stop-color="#de522c"/><stop offset="0.20" stop-color="#db4d2b"/><stop offset="0.40" stop-color="#d8472a"/><stop offset="0.60" stop-color="#d6412a"/><stop offset="0.80" stop-color="#d33b29"/><stop offset="1.00" stop-color="#d03628"/></linearGradient>
<linearGradient id="g112" gradientUnits="userSpaceOnUse" x1="245.20" y1="0" x2="301.20" y2="0"><stop offset="0.00" stop-color="#eeaf37"/><stop offset="0.20" stop-color="#ec9e36"/><stop offset="0.40" stop-color="#ea8b34"/><stop offset="0.60" stop-color="#e67732"/><stop offset="0.80" stop-color="#e3632f"/><stop offset="1.00" stop-color="#de522c"/></linearGradient>
<linearGradient id="g113" gradientUnits="userSpaceOnUse" x1="245.20" y1="0" x2="370.40" y2="0"><stop offset="0.00" stop-color="#eeaf37"/><stop offset="0.20" stop-color="#efba38"/><stop offset="0.40" stop-color="#f0c438"/><stop offset="0.60" stop-color="#efcf36"/><stop offset="0.80" stop-color="#efda33"/><stop offset="1.00" stop-color="#eee531"/></linearGradient>
<linearGradient id="g114" gradientUnits="userSpaceOnUse" x1="217.60" y1="0" x2="245.20" y2="0"><stop offset="0.00" stop-color="#f0c438"/><stop offset="0.20" stop-color="#f0c038"/><stop offset="0.40" stop-color="#efbc38"/><stop offset="0.60" stop-color="#efb737"/><stop offset="0.80" stop-color="#eeb337"/><stop offset="1.00" stop-color="#eeaf37"/></linearGradient>
<linearGradient id="g115" gradientUnits="userSpaceOnUse" x1="238.70" y1="0" x2="302.70" y2="0"><stop offset="0.00" stop-color="#ec9a36"/><stop offset="0.20" stop-color="#ea8e34"/><stop offset="0.40" stop-color="#e88133"/><stop offset="0.60" stop-color="#e67531"/><stop offset="0.80" stop-color="#e46830"/><stop offset="1.00" stop-color="#e25c2e"/></linearGradient>
<linearGradient id="g116" gradientUnits="userSpaceOnUse" x1="238.70" y1="0" x2="287.30" y2="0"><stop offset="0.00" stop-color="#ec9a36"/><stop offset="0.20" stop-color="#ec9836"/><stop offset="0.40" stop-color="#eb9535"/><stop offset="0.60" stop-color="#eb9335"/><stop offset="0.80" stop-color="#ea9035"/><stop offset="1.00" stop-color="#ea8e34"/></linearGradient>
<linearGradient id="g117" gradientUnits="userSpaceOnUse" x1="217.60" y1="0" x2="238.70" y2="0"><stop offset="0.00" stop-color="#f0c438"/><stop offset="0.20" stop-color="#efbc38"/><stop offset="0.40" stop-color="#eeb337"/><stop offset="0.60" stop-color="#eeab37"/><stop offset="0.80" stop-color="#eda236"/><stop offset="1.00" stop-color="#ec9a36"/></linearGradient>
<linearGradient id="g118" gradientUnits="userSpaceOnUse" x1="233.10" y1="0" x2="320.20" y2="0"><stop offset="0.00" stop-color="#eee531"/><stop offset="0.20" stop-color="#f0c538"/><stop offset="0.40" stop-color="#eda737"/><stop offset="0.60" stop-color="#e98533"/><stop offset="0.80" stop-color="#e3612f"/><stop offset="1.00" stop-color="#d7442a"/></linearGradient>
<linearGradient id="g119" gradientUnits="userSpaceOnUse" x1="233.10" y1="0" x2="325.00" y2="0"><stop offset="0.00" stop-color="#eee531"/><stop offset="0.20" stop-color="#c8ea35"/><stop offset="0.40" stop-color="#89e43e"/><stop offset="0.60" stop-color="#47dc50"/><stop offset="0.80" stop-color="#3edc85"/><stop offset="1.00" stop-color="#38dbbb"/></linearGradient>
<linearGradient id="g120" gradientUnits="userSpaceOnUse" x1="217.60" y1="0" x2="233.10" y2="0"><stop offset="0.00" stop-color="#f0c438"/><stop offset="0.20" stop-color="#f0cb37"/><stop offset="0.40" stop-color="#efd135"/><stop offset="0.60" stop-color="#efd834"/><stop offset="0.80" stop-color="#efde33"/><stop offset="1.00" stop-color="#eee531"/></linearGradient>
<linearGradient id="g121" gradientUnits="userSpaceOnUse" x1="217.60" y1="0" x2="280.80" y2="0"><stop offset="0.00" stop-color="#f0c438"/><stop offset="0.20" stop-color="#efbc38"/><stop offset="0.40" stop-color="#eeb337"/><stop offset="0.60" stop-color="#eeab37"/><stop offset="0.80" stop-color="#eda236"/><stop offset="1.00" stop-color="#ec9a36"/></linearGradient>
<linearGradient id="g122" gradientUnits="userSpaceOnUse" x1="210.90" y1="0" x2="217.60" y2="0"><stop offset="0.00" stop-color="#efda33"/><stop offset="0.20" stop-color="#efd534"/><stop offset="0.40" stop-color="#efd135"/><stop offset="0.60" stop-color="#f0cd36"/><stop offset="0.80" stop-color="#f0c837"/><stop offset="1.00" stop-color="#f0c438"/></linearGradient>
<linearGradient id="g123" gradientUnits="userSpaceOnUse" x1="271.20" y1="0" x2="304.50" y2="0"><stop offset="0.00" stop-color="#e46830"/><stop offset="0.20" stop-color="#e4662f"/><stop offset="0.40" stop-color="#e3632f"/><stop offset="0.60" stop-color="#e3612f"/><stop offset="0.80" stop-color="#e25e2e"/><stop offset="1.00" stop-color="#e25c2e"/></linearGradient>
<linearGradient id="g124" gradientUnits="userSpaceOnUse" x1="271.20" y1="0" x2="301.80" y2="0"><stop offset="0.00" stop-color="#e46830"/><stop offset="0.20" stop-color="#e3602e"/><stop offset="0.40" stop-color="#e0582d"/><stop offset="0.60" stop-color="#dd512c"/><stop offset="0.80" stop-color="#da4b2b"/><stop offset="1.00" stop-color="#d7442a"/></linearGradient>
<linearGradient id="g125" gradientUnits="userSpaceOnUse" x1="271.20" y1="0" x2="305.40" y2="0"><stop offset="0.00" stop-color="#e46830"/><stop offset="0.20" stop-color="#e4662f"/><stop offset="0.40" stop-color="#e3632f"/><stop offset="0.60" stop-color="#e3612f"/><stop offset="0.80" stop-color="#e25e2e"/><stop offset="1.00" stop-color="#e25c2e"/></linearGradient>
<linearGradient id="g126" gradientUnits="userSpaceOnUse" x1="237.80" y1="0" x2="271.20" y2="0"><stop offset="0.00" stop-color="#eeaa37"/><stop offset="0.20" stop-color="#ec9e36"/><stop offset="0.40" stop-color="#eb9135"/><stop offset="0.60" stop-color="#e88433"/><stop offset="0.80" stop-color="#e67631"/><stop offset="1.00" stop-color="#e46830"/></linearGradient>
<linearGradient id="g127" gradientUnits="userSpaceOnUse" x1="265.70" y1="0" x2="313.00" y2="0"><stop offset="0.00" stop-color="#ec9a36"/><stop offset="0.20" stop-color="#ea8e34"/><stop offset="0.40" stop-color="#e88133"/><stop offset="0.60" stop-color="#e67531"/><stop offset="0.80" stop-color="#e46830"/><stop offset="1.00" stop-color="#e25c2e"/></linearGradient>
<linearGradient id="g128" gradientUnits="userSpaceOnUse" x1="237.80" y1="0" x2="265.70" y2="0"><stop offset="0.00" stop-color="#eeaa37"/><stop offset="0.20" stop-color="#eda737"/><stop offset="0.40" stop-color="#eda336"/><stop offset="0.60" stop-color="#eda036"/><stop offset="0.80" stop-color="#ec9d36"/><stop offset="1.00" stop-color="#ec9a36"/></linearGradient>
<linearGradient id="g129" gradientUnits="userSpaceOnUse" x1="210.90" y1="0" x2="237.80" y2="0"><stop offset="0.00" stop-color="#efda33"/><stop offset="0.20" stop-color="#efd035"/><stop offset="0.40" stop-color="#f0c638"/><stop offset="0.60" stop-color="#efbd38"/><stop offset="0.80" stop-color="#eeb337"/><stop offset="1.00" stop-color="#eeaa37"/></linearGradient>
<linearGradient id="g130" gradientUnits="userSpaceOnUse" x1="243.60" y1="0" x2="272.30" y2="0"><stop offset="0.00" stop-color="#8be53e"/><stop offset="0.20" stop-color="#46dc54"/><stop offset="0.40" stop-color="#3cdc8f"/><stop offset="0.60" stop-color="#38daca"/><stop offset="0.80" stop-color="#35aae0"/><stop offset="1.00" stop-color="#3060e0"/></linearGradient>
<linearGradient id="g131" gradientUnits="userSpaceOnUse" x1="243.60" y1="0" x2="283.00" y2="0"><stop offset="0.00" stop-color="#8be53e"/><stop offset="0.20" stop-color="#7ee340"/><stop offset="0.40" stop-color="#70e142"/><stop offset="0.60" stop-color="#63e044"/><stop offset="0.80" stop-color="#56de46"/><stop offset="1.00" stop-color="#48dc48"/></linearGradient>
<linearGradient id="g132" gradientUnits="userSpaceOnUse" x1="243.60" y1="0" x2="258.50" y2="0"><stop offset="0.00" stop-color="#8be53e"/><stop offset="0.20" stop-color="#a6e83a"/><stop offset="0.40" stop-color="#bcea37"/><stop offset="0.60" stop-color="#cdea35"/><stop offset="0.80" stop-color="#ddea32"/><stop offset="1.00" stop-color="#eeea30"/></linearGradient>
<linearGradient id="g133" gradientUnits="userSpaceOnUse" x1="210.90" y1="0" x2="243.60" y2="0"><stop offset="0.00" stop-color="#efda33"/><stop offset="0.20" stop-color="#eee830"/><stop offset="0.40" stop-color="#dcea33"/><stop offset="0.60" stop-color="#c6ea35"/><stop offset="0.80" stop-color="#afe939"/><stop offset="1.00" stop-color="#8be53e"/></linearGradient>
<linearGradient id="g134" gradientUnits="userSpaceOnUse" x1="210.90" y1="0" x2="376.00" y2="0"><stop offset="0.00" stop-color="#efda33"/><stop offset="0.20" stop-color="#f0cd36"/><stop offset="0.40" stop-color="#f0c038"/><stop offset="0.60" stop-color="#eeb337"/><stop offset="0.80" stop-color="#eda737"/><stop offset="1.00" stop-color="#ec9a36"/></linearGradient>
<linearGradient id="g135" gradientUnits="userSpaceOnUse" x1="210.90" y1="0" x2="283.00" y2="0"><stop offset="0.00" stop-color="#efda33"/><stop offset="0.20" stop-color="#e6ea31"/><stop offset="0.40" stop-color="#c5ea36"/><stop offset="0.60" stop-color="#99e63c"/><stop offset="0.80" stop-color="#63e044"/><stop offset="1.00" stop-color="#45dc5b"/></linearGradient>
<linearGradient id="g136" gradientUnits="userSpaceOnUse" x1="210.90" y1="0" x2="272.50" y2="0"><stop offset="0.00" stop-color="#efda33"/><stop offset="0.20" stop-color="#efdc33"/><stop offset="0.40" stop-color="#efde33"/><stop offset="0.60" stop-color="#efe032"/><stop offset="0.80" stop-color="#eee232"/><stop offset="1.00" stop-color="#eee531"/></linearGradient>
<linearGradient id="g137" gradientUnits="userSpaceOnUse" x1="210.90" y1="0" x2="282.00" y2="0"><stop offset="0.00" stop-color="#efda33"/><stop offset="0.20" stop-color="#f0cd36"/><stop offset="0.40" stop-color="#f0c038"/><stop offset="0.60" stop-color="#eeb337"/><stop offset="0.80" stop-color="#eda737"/><stop offset="1.00" stop-color="#ec9a36"/></linearGradient>
<linearGradient id="g138" gradientUnits="userSpaceOnUse" x1="298.50" y1="0" x2="329.20" y2="0"><stop offset="0.00" stop-color="#eeb437"/><stop offset="0.20" stop-color="#efb737"/><stop offset="0.40" stop-color="#efbb38"/><stop offset="0.60" stop-color="#efbe38"/><stop offset="0.80" stop-color="#f0c138"/><stop offset="1.00" stop-color="#f0c438"/></linearGradient>
<linearGradient id="g139" gradientUnits="userSpaceOnUse" x1="298.50" y1="0" x2="305.20" y2="0"><stop offset="0.00" stop-color="#eeb437"/><stop offset="0.20" stop-color="#efb737"/><stop offset="0.40" stop-color="#efbb38"/><stop offset="0.60" stop-color="#efbe38"/><stop offset="0.80" stop-color="#f0c138"/><stop offset="1.00" stop-color="#f0c438"/></linearGradient>
<linearGradient id="g140" gradientUnits="userSpaceOnUse" x1="290.80" y1="0" x2="306.20" y2="0"><stop offset="0.00" stop-color="#eeb437"/><stop offset="0.20" stop-color="#eeaf37"/><stop offset="0.40" stop-color="#eeaa37"/><stop offset="0.60" stop-color="#eda436"/><stop offset="0.80" stop-color="#ec9f36"/><stop offset="1.00" stop-color="#ec9a36"/></linearGradient>
<linearGradient id="g141" gradientUnits="userSpaceOnUse" x1="254.40" y1="0" x2="290.80" y2="0"><stop offset="0.00" stop-color="#eeaa37"/><stop offset="0.20" stop-color="#eeac37"/><stop offset="0.40" stop-color="#eeae37"/><stop offset="0.60" stop-color="#eeb037"/><stop offset="0.80" stop-color="#eeb237"/><stop offset="1.00" stop-color="#eeb437"/></linearGradient>
<linearGradient id="g142" gradientUnits="userSpaceOnUse" x1="254.40" y1="0" x2="309.00" y2="0"><stop offset="0.00" stop-color="#eeaa37"/><stop offset="0.20" stop-color="#eb9335"/><stop offset="0.40" stop-color="#e77932"/><stop offset="0.60" stop-color="#e25e2e"/><stop offset="0.80" stop-color="#da4a2b"/><stop offset="1.00" stop-color="#d03628"/></linearGradient>
<linearGradient id="g143" gradientUnits="userSpaceOnUse" x1="204.50" y1="0" x2="254.40" y2="0"><stop offset="0.00" stop-color="#efda33"/><stop offset="0.20" stop-color="#efd035"/><stop offset="0.40" stop-color="#f0c638"/><stop offset="0.60" stop-color="#efbd38"/><stop offset="0.80" stop-color="#eeb337"/><stop offset="1.00" stop-color="#eeaa37"/></linearGradient>
<linearGradient id="g144" gradientUnits="userSpaceOnUse" x1="189.00" y1="0" x2="273.80" y2="0"><stop offset="0.00" stop-color="#efda33"/><stop offset="0.20" stop-color="#efdc33"/><stop offset="0.40" stop-color="#efde33"/><stop offset="0.60" stop-color="#efe032"/><stop offset="0.80" stop-color="#eee232"/><stop offset="1.00" stop-color="#eee531"/></linearGradient>
<linearGradient id="g145" gradientUnits="userSpaceOnUse" x1="283.00" y1="0" x2="302.50" y2="0"><stop offset="0.00" stop-color="#de522c"/><stop offset="0.20" stop-color="#db4d2b"/><stop offset="0.40" stop-color="#d8472a"/><stop offset="0.60" stop-color="#d6412a"/><stop offset="0.80" stop-color="#d33b29"/><stop offset="1.00" stop-color="#d03628"/></linearGradient>
<linearGradient id="g146" gradientUnits="userSpaceOnUse" x1="283.00" y1="0" x2="291.50" y2="0"><stop offset="0.00" stop-color="#de522c"/><stop offset="0.20" stop-color="#dc502c"/><stop offset="0.40" stop-color="#db4d2b"/><stop offset="0.60" stop-color="#da4a2b"/><stop offset="0.80" stop-color="#d8472a"/><stop offset="1.00" stop-color="#d7442a"/></linearGradient>
<linearGradient id="g147" gradientUnits="userSpaceOnUse" x1="251.40" y1="0" x2="283.00" y2="0"><stop offset="0.00" stop-color="#ec9a36"/><stop offset="0.20" stop-color="#ea8b34"/><stop offset="0.40" stop-color="#e77c32"/><stop offset="0.60" stop-color="#e56d30"/><stop offset="0.80" stop-color="#e25e2e"/><stop offset="1.00" stop-color="#de522c"/></linearGradient>
<linearGradient id="g148" gradientUnits="userSpaceOnUse" x1="251.40" y1="0" x2="270.30" y2="0"><stop offset="0.00" stop-color="#ec9a36"/><stop offset="0.20" stop-color="#ec9836"/><stop offset="0.40" stop-color="#eb9535"/><stop offset="0.60" stop-color="#eb9335"/><stop offset="0.80" stop-color="#ea9035"/><stop offset="1.00" stop-color="#ea8e34"/></linearGradient>
<linearGradient id="g149" gradientUnits="userSpaceOnUse" x1="234.10" y1="0" x2="251.40" y2="0"><stop offset="0.00" stop-color="#f0c438"/><stop offset="0.20" stop-color="#efbc38"/><stop offset="0.40" stop-color="#eeb337"/><stop offset="0.60" stop-color="#eeab37"/><stop offset="0.80" stop-color="#eda236"/><stop offset="1.00" stop-color="#ec9a36"/></linearGradient>
<linearGradient id="g150" gradientUnits="userSpaceOnUse" x1="234.10" y1="0" x2="268.80" y2="0"><stop offset="0.00" stop-color="#f0c438"/><stop offset="0.20" stop-color="#efbc38"/><stop offset="0.40" stop-color="#eeb337"/><stop offset="0.60" stop-color="#eeab37"/><stop offset="0.80" stop-color="#eda236"/><stop offset="1.00" stop-color="#ec9a36"/></linearGradient>
<linearGradient id="g151" gradientUnits="userSpaceOnUse" x1="234.10" y1="0" x2="302.70" y2="0"><stop offset="0.00" stop-color="#f0c438"/><stop offset="0.20" stop-color="#d5ea33"/><stop offset="0.40" stop-color="#63e044"/><stop offset="0.60" stop-color="#3bdc95"/><stop offset="0.80" stop-color="#36c0e0"/><stop offset="1.00" stop-color="#2c55d0"/></linearGradient>
<linearGradient id="g152" gradientUnits="userSpaceOnUse" x1="168.80" y1="0" x2="234.10" y2="0"><stop offset="0.00" stop-color="#efda33"/><stop offset="0.20" stop-color="#efd534"/><stop offset="0.40" stop-color="#efd135"/><stop offset="0.60" stop-color="#f0cd36"/><stop offset="0.80" stop-color="#f0c837"/><stop offset="1.00" stop-color="#f0c438"/></linearGradient>
<linearGradient id="g153" gradientUnits="userSpaceOnUse" x1="154.10" y1="0" x2="168.80" y2="0"><stop offset="0.00" stop-color="#eeaf37"/><stop offset="0.20" stop-color="#efb737"/><stop offset="0.40" stop-color="#f0c038"/><stop offset="0.60" stop-color="#f0c837"/><stop offset="0.80" stop-color="#efd135"/><stop offset="1.00" stop-color="#efda33"/></linearGradient>
<linearGradient id="g154" gradientUnits="userSpaceOnUse" x1="255.00" y1="0" x2="267.70" y2="0"><stop offset="0.00" stop-color="#d7442a"/><stop offset="0.20" stop-color="#d6412a"/><stop offset="0.40" stop-color="#d43e29"/><stop offset="0.60" stop-color="#d33b29"/><stop offset="0.80" stop-color="#d23828"/><stop offset="1.00" stop-color="#d03628"/></linearGradient>
<linearGradient id="g155" gradientUnits="userSpaceOnUse" x1="255.00" y1="0" x2="308.50" y2="0"><stop offset="0.00" stop-color="#d7442a"/><stop offset="0.20" stop-color="#d8472a"/><stop offset="0.40" stop-color="#da4a2b"/><stop offset="0.60" stop-color="#db4d2b"/><stop offset="0.80" stop-color="#dc502c"/><stop offset="1.00" stop-color="#de522c"/></linearGradient>
<linearGradient id="g156" gradientUnits="userSpaceOnUse" x1="234.60" y1="0" x2="255.00" y2="0"><stop offset="0.00" stop-color="#e25c2e"/><stop offset="0.20" stop-color="#e0572d"/><stop offset="0.40" stop-color="#de522c"/><stop offset="0.60" stop-color="#db4e2c"/><stop offset="0.80" stop-color="#d9492b"/><stop offset="1.00" stop-color="#d7442a"/></linearGradient>
<linearGradient id="g157" gradientUnits="userSpaceOnUse" x1="234.60" y1="0" x2="270.00" y2="0"><stop offset="0.00" stop-color="#e25c2e"/><stop offset="0.20" stop-color="#e4662f"/><stop offset="0.40" stop-color="#e57031"/><stop offset="0.60" stop-color="#e77a32"/><stop offset="0.80" stop-color="#e88433"/><stop offset="1.00" stop-color="#ea8e34"/></linearGradient>
<linearGradient id="g158" gradientUnits="userSpaceOnUse" x1="234.60" y1="0" x2="248.00" y2="0"><stop offset="0.00" stop-color="#e25c2e"/><stop offset="0.20" stop-color="#e3622f"/><stop offset="0.40" stop-color="#e46830"/><stop offset="0.60" stop-color="#e56f30"/><stop offset="0.80" stop-color="#e67531"/><stop offset="1.00" stop-color="#e77b32"/></linearGradient>
<linearGradient id="g159" gradientUnits="userSpaceOnUse" x1="239.50" y1="0" x2="256.50" y2="0"><stop offset="0.00" stop-color="#e25c2e"/><stop offset="0.20" stop-color="#e25e2e"/><stop offset="0.40" stop-color="#e3612f"/><stop offset="0.60" stop-color="#e3632f"/><stop offset="0.80" stop-color="#e4662f"/><stop offset="1.00" stop-color="#e46830"/></linearGradient>
<linearGradient id="g160" gradientUnits="userSpaceOnUse" x1="227.70" y1="0" x2="254.60" y2="0"><stop offset="0.00" stop-color="#e25c2e"/><stop offset="0.20" stop-color="#de542d"/><stop offset="0.40" stop-color="#db4d2b"/><stop offset="0.60" stop-color="#d7452a"/><stop offset="0.80" stop-color="#d43d29"/><stop offset="1.00" stop-color="#d03628"/></linearGradient>
<linearGradient id="g161" gradientUnits="userSpaceOnUse" x1="227.70" y1="0" x2="275.40" y2="0"><stop offset="0.00" stop-color="#e25c2e"/><stop offset="0.20" stop-color="#de542d"/><stop offset="0.40" stop-color="#db4d2b"/><stop offset="0.60" stop-color="#d7452a"/><stop offset="0.80" stop-color="#d43d29"/><stop offset="1.00" stop-color="#d03628"/></linearGradient>
<linearGradient id="g162" gradientUnits="userSpaceOnUse" x1="240.70" y1="0" x2="247.30" y2="0"><stop offset="0.00" stop-color="#d7442a"/><stop offset="0.20" stop-color="#d6412a"/><stop offset="0.40" stop-color="#d43e29"/><stop offset="0.60" stop-color="#d33b29"/><stop offset="0.80" stop-color="#d23828"/><stop offset="1.00" stop-color="#d03628"/></linearGradient>
<linearGradient id="g163" gradientUnits="userSpaceOnUse" x1="222.30" y1="0" x2="240.70" y2="0"><stop offset="0.00" stop-color="#e25c2e"/><stop offset="0.20" stop-color="#e0572d"/><stop offset="0.40" stop-color="#de522c"/><stop offset="0.60" stop-color="#db4e2c"/><stop offset="0.80" stop-color="#d9492b"/><stop offset="1.00" stop-color="#d7442a"/></linearGradient>
<linearGradient id="g164" gradientUnits="userSpaceOnUse" x1="222.30" y1="0" x2="246.20" y2="0"><stop offset="0.00" stop-color="#e25c2e"/><stop offset="0.20" stop-color="#e3622f"/><stop offset="0.40" stop-color="#e46830"/><stop offset="0.60" stop-color="#e56f30"/><stop offset="0.80" stop-color="#e67531"/><stop offset="1.00" stop-color="#e77b32"/></linearGradient>
<linearGradient id="g165" gradientUnits="userSpaceOnUse" x1="216.80" y1="0" x2="238.10" y2="0"><stop offset="0.00" stop-color="#e25c2e"/><stop offset="0.20" stop-color="#e25e2e"/><stop offset="0.40" stop-color="#e3612f"/><stop offset="0.60" stop-color="#e3632f"/><stop offset="0.80" stop-color="#e4662f"/><stop offset="1.00" stop-color="#e46830"/></linearGradient>
<linearGradient id="g166" gradientUnits="userSpaceOnUse" x1="212.60" y1="0" x2="221.80" y2="0"><stop offset="0.00" stop-color="#e77b32"/><stop offset="0.20" stop-color="#e67531"/><stop offset="0.40" stop-color="#e56f30"/><stop offset="0.60" stop-color="#e46830"/><stop offset="0.80" stop-color="#e3622f"/><stop offset="1.00" stop-color="#e25c2e"/></linearGradient>
<linearGradient id="g167" gradientUnits="userSpaceOnUse" x1="203.10" y1="0" x2="212.60" y2="0"><stop offset="0.00" stop-color="#e25c2e"/><stop offset="0.20" stop-color="#e3622f"/><stop offset="0.40" stop-color="#e46830"/><stop offset="0.60" stop-color="#e56f30"/><stop offset="0.80" stop-color="#e67531"/><stop offset="1.00" stop-color="#e77b32"/></linearGradient>
<linearGradient id="g168" gradientUnits="userSpaceOnUse" x1="188.00" y1="0" x2="203.10" y2="0"><stop offset="0.00" stop-color="#e77b32"/><stop offset="0.20" stop-color="#e67531"/><stop offset="0.40" stop-color="#e56f30"/><stop offset="0.60" stop-color="#e46830"/><stop offset="0.80" stop-color="#e3622f"/><stop offset="1.00" stop-color="#e25c2e"/></linearGradient>
<linearGradient id="g169" gradientUnits="userSpaceOnUse" x1="188.00" y1="0" x2="286.70" y2="0"><stop offset="0.00" stop-color="#e77b32"/><stop offset="0.20" stop-color="#e46b30"/><stop offset="0.40" stop-color="#e25b2e"/><stop offset="0.60" stop-color="#dc4f2c"/><stop offset="0.80" stop-color="#d6422a"/><stop offset="1.00" stop-color="#d03628"/></linearGradient>
<linearGradient id="g170" gradientUnits="userSpaceOnUse" x1="176.60" y1="0" x2="188.00" y2="0"><stop offset="0.00" stop-color="#ec9a36"/><stop offset="0.20" stop-color="#eb9435"/><stop offset="0.40" stop-color="#ea8e34"/><stop offset="0.60" stop-color="#e98734"/><stop offset="0.80" stop-color="#e88133"/><stop offset="1.00" stop-color="#e77b32"/></linearGradient>
<linearGradient id="g171" gradientUnits="userSpaceOnUse" x1="271.90" y1="0" x2="308.80" y2="0"><stop offset="0.00" stop-color="#63e044"/><stop offset="0.20" stop-color="#a1e83b"/><stop offset="0.40" stop-color="#cfea34"/><stop offset="0.60" stop-color="#eee631"/><stop offset="0.80" stop-color="#f0cd36"/><stop offset="1.00" stop-color="#eeb437"/></linearGradient>
<linearGradient id="g172" gradientUnits="userSpaceOnUse" x1="271.90" y1="0" x2="317.50" y2="0"><stop offset="0.00" stop-color="#63e044"/><stop offset="0.20" stop-color="#43dc65"/><stop offset="0.40" stop-color="#3bdc95"/><stop offset="0.60" stop-color="#38dac4"/><stop offset="0.80" stop-color="#36c0e0"/><stop offset="1.00" stop-color="#3284e0"/></linearGradient>
<linearGradient id="g173" gradientUnits="userSpaceOnUse" x1="207.00" y1="0" x2="271.90" y2="0"><stop offset="0.00" stop-color="#eeea30"/><stop offset="0.20" stop-color="#d8ea33"/><stop offset="0.40" stop-color="#c3ea36"/><stop offset="0.60" stop-color="#a9e93a"/><stop offset="0.80" stop-color="#86e43f"/><stop offset="1.00" stop-color="#63e044"/></linearGradient>
<linearGradient id="g174" gradientUnits="userSpaceOnUse" x1="207.00" y1="0" x2="265.20" y2="0"><stop offset="0.00" stop-color="#eeea30"/><stop offset="0.20" stop-color="#efda33"/><stop offset="0.40" stop-color="#f0c937"/><stop offset="0.60" stop-color="#efba38"/><stop offset="0.80" stop-color="#eeaa37"/><stop offset="1.00" stop-color="#ec9a36"/></linearGradient>
<linearGradient id="g175" gradientUnits="userSpaceOnUse" x1="176.60" y1="0" x2="207.00" y2="0"><stop offset="0.00" stop-color="#ec9a36"/><stop offset="0.20" stop-color="#eeaa37"/><stop offset="0.40" stop-color="#efba38"/><stop offset="0.60" stop-color="#f0c937"/><stop offset="0.80" stop-color="#efda33"/><stop offset="1.00" stop-color="#eeea30"/></linearGradient>
<linearGradient id="g176" gradientUnits="userSpaceOnUse" x1="155.10" y1="0" x2="176.60" y2="0"><stop offset="0.00" stop-color="#f0c438"/><stop offset="0.20" stop-color="#efbc38"/><stop offset="0.40" stop-color="#eeb337"/><stop offset="0.60" stop-color="#eeab37"/><stop offset="0.80" stop-color="#eda236"/><stop offset="1.00" stop-color="#ec9a36"/></linearGradient>
<linearGradient id="g177" gradientUnits="userSpaceOnUse" x1="200.80" y1="0" x2="266.20" y2="0"><stop offset="0.00" stop-color="#c5ea36"/><stop offset="0.20" stop-color="#c1ea36"/><stop offset="0.40" stop-color="#beea37"/><stop offset="0.60" stop-color="#bbea37"/><stop offset="0.80" stop-color="#b7ea38"/><stop offset="1.00" stop-color="#b4ea38"/></linearGradient>
<linearGradient id="g178" gradientUnits="userSpaceOnUse" x1="200.80" y1="0" x2="269.00" y2="0"><stop offset="0.00" stop-color="#c5ea36"/><stop offset="0.20" stop-color="#bcea37"/><stop offset="0.40" stop-color="#b4ea38"/><stop offset="0.60" stop-color="#a6e83a"/><stop offset="0.80" stop-color="#99e63c"/><stop offset="1.00" stop-color="#8be53e"/></linearGradient>
<linearGradient id="g179" gradientUnits="userSpaceOnUse" x1="155.10" y1="0" x2="200.80" y2="0"><stop offset="0.00" stop-color="#f0c438"/><stop offset="0.20" stop-color="#efd135"/><stop offset="0.40" stop-color="#efde33"/><stop offset="0.60" stop-color="#ecea30"/><stop offset="0.80" stop-color="#d8ea33"/><stop offset="1.00" stop-color="#c5ea36"/></linearGradient>
<linearGradient id="g180" gradientUnits="userSpaceOnUse" x1="177.70" y1="0" x2="223.80" y2="0"><stop offset="0.00" stop-color="#eeea30"/><stop offset="0.20" stop-color="#e2ea32"/><stop offset="0.40" stop-color="#d7ea33"/><stop offset="0.60" stop-color="#cbea35"/><stop offset="0.80" stop-color="#c0ea36"/><stop offset="1.00" stop-color="#b4ea38"/></linearGradient>
<linearGradient id="g181" gradientUnits="userSpaceOnUse" x1="155.10" y1="0" x2="177.70" y2="0"><stop offset="0.00" stop-color="#f0c438"/><stop offset="0.20" stop-color="#f0cc36"/><stop offset="0.40" stop-color="#efd335"/><stop offset="0.60" stop-color="#efdb33"/><stop offset="0.80" stop-color="#eee232"/><stop offset="1.00" stop-color="#eeea30"/></linearGradient>
<linearGradient id="g182" gradientUnits="userSpaceOnUse" x1="143.60" y1="0" x2="204.00" y2="0"><stop offset="0.00" stop-color="#f0c438"/><stop offset="0.20" stop-color="#eda937"/><stop offset="0.40" stop-color="#ea8b34"/><stop offset="0.60" stop-color="#e46b30"/><stop offset="0.80" stop-color="#dc4f2c"/><stop offset="1.00" stop-color="#d03628"/></linearGradient>
<linearGradient id="g183" gradientUnits="userSpaceOnUse" x1="134.90" y1="0" x2="143.60" y2="0"><stop offset="0.00" stop-color="#eeb437"/><stop offset="0.20" stop-color="#efb737"/><stop offset="0.40" stop-color="#efbb38"/><stop offset="0.60" stop-color="#efbe38"/><stop offset="0.80" stop-color="#f0c138"/><stop offset="1.00" stop-color="#f0c438"/></linearGradient>
<linearGradient id="g184" gradientUnits="userSpaceOnUse" x1="126.10" y1="0" x2="134.90" y2="0"><stop offset="0.00" stop-color="#ec9f36"/><stop offset="0.20" stop-color="#eda336"/><stop offset="0.40" stop-color="#eda837"/><stop offset="0.60" stop-color="#eeac37"/><stop offset="0.80" stop-color="#eeb037"/><stop offset="1.00" stop-color="#eeb437"/></linearGradient>
<linearGradient id="g185" gradientUnits="userSpaceOnUse" x1="126.10" y1="0" x2="160.80" y2="0"><stop offset="0.00" stop-color="#ec9f36"/><stop offset="0.20" stop-color="#ea9035"/><stop offset="0.40" stop-color="#e88033"/><stop offset="0.60" stop-color="#e57031"/><stop offset="0.80" stop-color="#e3602e"/><stop offset="1.00" stop-color="#de522c"/></linearGradient>
<linearGradient id="g186" gradientUnits="userSpaceOnUse" x1="98.70" y1="0" x2="126.10" y2="0"><stop offset="0.00" stop-color="#eeea30"/><stop offset="0.20" stop-color="#efdb33"/><stop offset="0.40" stop-color="#f0cc36"/><stop offset="0.60" stop-color="#efbd38"/><stop offset="0.80" stop-color="#eeae37"/><stop offset="1.00" stop-color="#ec9f36"/></linearGradient>
<linearGradient id="g187" gradientUnits="userSpaceOnUse" x1="137.90" y1="0" x2="160.80" y2="0"><stop offset="0.00" stop-color="#b4ea38"/><stop offset="0.20" stop-color="#ace939"/><stop offset="0.40" stop-color="#a4e83a"/><stop offset="0.60" stop-color="#9ce73c"/><stop offset="0.80" stop-color="#94e63d"/><stop offset="1.00" stop-color="#8be53e"/></linearGradient>
<linearGradient id="g188" gradientUnits="userSpaceOnUse" x1="98.70" y1="0" x2="137.90" y2="0"><stop offset="0.00" stop-color="#eeea30"/><stop offset="0.20" stop-color="#e2ea32"/><stop offset="0.40" stop-color="#d7ea33"/><stop offset="0.60" stop-color="#cbea35"/><stop offset="0.80" stop-color="#c0ea36"/><stop offset="1.00" stop-color="#b4ea38"/></linearGradient></defs>
<g stroke-width="1.60" fill="none">
<line x1="414.20" y1="3.20" x2="438.50" y2="3.20" stroke="url(#g1)"/>
<line x1="414.20" y1="7.88" x2="463.80" y2="7.88" stroke="url(#g2)"/>
<line x1="414.20" y1="2.40" x2="414.20" y2="8.68" stroke="#c5ea36"/>
<line x1="404.20" y1="5.54" x2="414.20" y2="5.54" stroke="url(#g3)"/>
<line x1="404.20" y1="12.55" x2="431.00" y2="12.55" stroke="#b4ea38"/>
<line x1="404.20" y1="4.74" x2="404.20" y2="13.35" stroke="#b4ea38"/>
<line x1="392.70" y1="9.04" x2="404.20" y2="9.04" stroke="url(#g4)"/>
<line x1="399.60" y1="17.22" x2="447.70" y2="17.22" stroke="url(#g5)"/>
<line x1="399.60" y1="21.90" x2="443.00" y2="21.90" stroke="url(#g6)"/>
<line x1="399.60" y1="16.42" x2="399.60" y2="22.70" stroke="#63e044"/>
<line x1="392.70" y1="19.56" x2="399.60" y2="19.56" stroke="url(#g7)"/>
<line x1="392.70" y1="26.57" x2="431.50" y2="26.57" stroke="url(#g8)"/>
<line x1="392.70" y1="8.24" x2="392.70" y2="27.38" stroke="#8be53e"/>
<line x1="380.40" y1="17.81" x2="392.70" y2="17.81" stroke="url(#g9)"/>
<line x1="380.40" y1="31.25" x2="388.00" y2="31.25" stroke="url(#g10)"/>
<line x1="380.40" y1="17.01" x2="380.40" y2="32.05" stroke="#63e044"/>
<line x1="368.00" y1="24.53" x2="380.40" y2="24.53" stroke="url(#g11)"/>
<line x1="419.50" y1="35.93" x2="457.70" y2="35.93" stroke="url(#g12)"/>
<line x1="419.50" y1="40.60" x2="433.80" y2="40.60" stroke="url(#g13)"/>
<line x1="419.50" y1="35.13" x2="419.50" y2="41.40" stroke="#42dc6e"/>
<line x1="375.60" y1="38.26" x2="419.50" y2="38.26" stroke="url(#g14)"/>
<line x1="375.60" y1="45.27" x2="423.00" y2="45.27" stroke="url(#g15)"/>
<line x1="375.60" y1="37.46" x2="375.60" y2="46.07" stroke="#48dc48"/>
<line x1="368.00" y1="41.77" x2="375.60" y2="41.77" stroke="#48dc48"/>
<line x1="368.00" y1="23.73" x2="368.00" y2="42.57" stroke="#48dc48"/>
<line x1="360.00" y1="33.15" x2="368.00" y2="33.15" stroke="#48dc48"/>
<line x1="396.30" y1="49.95" x2="445.00" y2="49.95" stroke="#48dc48"/>
<line x1="396.30" y1="54.62" x2="399.00" y2="54.62" stroke="#48dc48"/>
<line x1="396.30" y1="49.15" x2="396.30" y2="55.42" stroke="#48dc48"/>
<line x1="385.00" y1="52.29" x2="396.30" y2="52.29" stroke="#48dc48"/>
<line x1="385.00" y1="59.30" x2="394.20" y2="59.30" stroke="url(#g16)"/>
<line x1="385.00" y1="51.49" x2="385.00" y2="60.10" stroke="#48dc48"/>
<line x1="378.80" y1="55.79" x2="385.00" y2="55.79" stroke="url(#g17)"/>
<line x1="378.80" y1="63.98" x2="394.20" y2="63.98" stroke="url(#g18)"/>
<line x1="378.80" y1="68.65" x2="394.20" y2="68.65" stroke="url(#g19)"/>
<line x1="378.80" y1="73.33" x2="409.00" y2="73.33" stroke="url(#g20)"/>
<line x1="378.80" y1="54.99" x2="378.80" y2="74.12" stroke="#3bdc95"/>
<line x1="360.00" y1="64.56" x2="378.80" y2="64.56" stroke="url(#g21)"/>
<line x1="360.00" y1="32.35" x2="360.00" y2="65.36" stroke="#48dc48"/>
<line x1="250.50" y1="48.85" x2="360.00" y2="48.85" stroke="url(#g22)"/>
<line x1="250.50" y1="78.00" x2="411.00" y2="78.00" stroke="url(#g23)"/>
<line x1="250.50" y1="48.05" x2="250.50" y2="78.80" stroke="#eee531"/>
<line x1="212.50" y1="63.43" x2="250.50" y2="63.43" stroke="url(#g24)"/>
<line x1="340.50" y1="82.67" x2="377.00" y2="82.67" stroke="url(#g25)"/>
<line x1="340.50" y1="87.35" x2="363.00" y2="87.35" stroke="url(#g26)"/>
<line x1="340.50" y1="81.88" x2="340.50" y2="88.15" stroke="#f0c438"/>
<line x1="328.50" y1="85.01" x2="340.50" y2="85.01" stroke="url(#g27)"/>
<line x1="328.50" y1="92.03" x2="358.50" y2="92.03" stroke="url(#g28)"/>
<line x1="328.50" y1="96.70" x2="354.60" y2="96.70" stroke="url(#g29)"/>
<line x1="328.50" y1="84.21" x2="328.50" y2="97.50" stroke="#ec9a36"/>
<line x1="317.00" y1="90.86" x2="328.50" y2="90.86" stroke="#ec9a36"/>
<line x1="324.60" y1="101.38" x2="385.00" y2="101.38" stroke="url(#g30)"/>
<line x1="324.60" y1="106.05" x2="363.00" y2="106.05" stroke="url(#g31)"/>
<line x1="324.60" y1="100.58" x2="324.60" y2="106.85" stroke="#ea8e34"/>
<line x1="317.00" y1="103.71" x2="324.60" y2="103.71" stroke="url(#g32)"/>
<line x1="366.40" y1="110.72" x2="391.00" y2="110.72" stroke="url(#g33)"/>
<line x1="366.40" y1="115.40" x2="408.40" y2="115.40" stroke="url(#g34)"/>
<line x1="366.40" y1="109.92" x2="366.40" y2="116.20" stroke="#ec9a36"/>
<line x1="317.00" y1="113.06" x2="366.40" y2="113.06" stroke="#ec9a36"/>
<line x1="317.00" y1="120.08" x2="354.60" y2="120.08" stroke="url(#g35)"/>
<line x1="317.00" y1="124.75" x2="350.80" y2="124.75" stroke="#ec9a36"/>
<line x1="317.00" y1="129.42" x2="427.50" y2="129.42" stroke="url(#g36)"/>
<line x1="317.00" y1="90.06" x2="317.00" y2="130.22" stroke="#ec9a36"/>
<line x1="212.50" y1="110.14" x2="317.00" y2="110.14" stroke="url(#g37)"/>
<line x1="212.50" y1="62.63" x2="212.50" y2="110.94" stroke="#eeaf37"/>
<line x1="195.50" y1="86.78" x2="212.50" y2="86.78" stroke="#eeaf37"/>
<line x1="352.50" y1="134.10" x2="358.30" y2="134.10" stroke="url(#g38)"/>
<line x1="352.50" y1="138.77" x2="370.80" y2="138.77" stroke="url(#g39)"/>
<line x1="352.50" y1="133.30" x2="352.50" y2="139.57" stroke="#d33a28"/>
<line x1="313.50" y1="136.44" x2="352.50" y2="136.44" stroke="#d53f29"/>
<line x1="313.50" y1="143.45" x2="399.20" y2="143.45" stroke="url(#g40)"/>
<line x1="313.50" y1="135.64" x2="313.50" y2="144.25" stroke="#d53f29"/>
<line x1="305.00" y1="139.94" x2="313.50" y2="139.94" stroke="#d53f29"/>
<line x1="316.50" y1="148.12" x2="337.70" y2="148.12" stroke="url(#g41)"/>
<line x1="316.50" y1="152.80" x2="360.20" y2="152.80" stroke="url(#g42)"/>
<line x1="316.50" y1="147.32" x2="316.50" y2="153.60" stroke="#d53f29"/>
<line x1="305.00" y1="150.46" x2="316.50" y2="150.46" stroke="#d53f29"/>
<line x1="305.00" y1="139.14" x2="305.00" y2="151.26" stroke="#d53f29"/>
<line x1="297.70" y1="145.20" x2="305.00" y2="145.20" stroke="#d53f29"/>
<line x1="297.70" y1="157.47" x2="333.30" y2="157.47" stroke="url(#g43)"/>
<line x1="297.70" y1="144.40" x2="297.70" y2="158.28" stroke="#d53f29"/>
<line x1="266.50" y1="151.34" x2="297.70" y2="151.34" stroke="#d53f29"/>
<line x1="266.50" y1="162.15" x2="398.80" y2="162.15" stroke="url(#g44)"/>
<line x1="266.50" y1="150.54" x2="266.50" y2="162.95" stroke="#d53f29"/>
<line x1="234.20" y1="156.74" x2="266.50" y2="156.74" stroke="url(#g45)"/>
<line x1="234.20" y1="166.82" x2="276.00" y2="166.82" stroke="url(#g46)"/>
<line x1="234.20" y1="155.94" x2="234.20" y2="167.62" stroke="#e25c2e"/>
<line x1="195.50" y1="161.78" x2="234.20" y2="161.78" stroke="url(#g47)"/>
<line x1="195.50" y1="85.98" x2="195.50" y2="162.58" stroke="#eeaf37"/>
<line x1="186.90" y1="124.28" x2="195.50" y2="124.28" stroke="#eeaf37"/>
<line x1="186.90" y1="171.50" x2="390.80" y2="171.50" stroke="url(#g48)"/>
<line x1="186.90" y1="123.48" x2="186.90" y2="172.30" stroke="#eeaf37"/>
<line x1="172.80" y1="147.89" x2="186.90" y2="147.89" stroke="#eeaf37"/>
<line x1="297.00" y1="176.17" x2="362.70" y2="176.17" stroke="url(#g49)"/>
<line x1="297.00" y1="180.85" x2="355.00" y2="180.85" stroke="url(#g50)"/>
<line x1="297.00" y1="185.52" x2="365.40" y2="185.52" stroke="url(#g51)"/>
<line x1="297.00" y1="175.37" x2="297.00" y2="186.32" stroke="#c5ea36"/>
<line x1="291.30" y1="180.85" x2="297.00" y2="180.85" stroke="#c5ea36"/>
<line x1="291.30" y1="190.20" x2="331.50" y2="190.20" stroke="url(#g52)"/>
<line x1="291.30" y1="180.05" x2="291.30" y2="191.00" stroke="#c5ea36"/>
<line x1="282.30" y1="185.52" x2="291.30" y2="185.52" stroke="#bcea37"/>
<line x1="282.30" y1="194.87" x2="357.00" y2="194.87" stroke="url(#g53)"/>
<line x1="282.30" y1="184.72" x2="282.30" y2="195.67" stroke="#bcea37"/>
<line x1="269.60" y1="190.20" x2="282.30" y2="190.20" stroke="url(#g54)"/>
<line x1="327.40" y1="199.55" x2="341.30" y2="199.55" stroke="url(#g55)"/>
<line x1="327.40" y1="204.22" x2="378.50" y2="204.22" stroke="url(#g56)"/>
<line x1="327.40" y1="198.75" x2="327.40" y2="205.03" stroke="#38dbbb"/>
<line x1="287.50" y1="201.89" x2="327.40" y2="201.89" stroke="url(#g57)"/>
<line x1="287.50" y1="208.90" x2="299.20" y2="208.90" stroke="url(#g58)"/>
<line x1="287.50" y1="201.09" x2="287.50" y2="209.70" stroke="#48dc48"/>
<line x1="269.60" y1="205.39" x2="287.50" y2="205.39" stroke="url(#g59)"/>
<line x1="303.40" y1="213.57" x2="331.50" y2="213.57" stroke="url(#g60)"/>
<line x1="303.40" y1="218.25" x2="313.80" y2="218.25" stroke="url(#g61)"/>
<line x1="303.40" y1="212.77" x2="303.40" y2="219.05" stroke="#71e142"/>
<line x1="269.60" y1="215.91" x2="303.40" y2="215.91" stroke="url(#g62)"/>
<line x1="269.60" y1="189.40" x2="269.60" y2="216.71" stroke="#99e63c"/>
<line x1="256.50" y1="203.06" x2="269.60" y2="203.06" stroke="url(#g63)"/>
<line x1="287.40" y1="222.92" x2="318.50" y2="222.92" stroke="#eeaa37"/>
<line x1="287.40" y1="227.60" x2="362.70" y2="227.60" stroke="url(#g64)"/>
<line x1="287.40" y1="222.12" x2="287.40" y2="228.40" stroke="#eeaa37"/>
<line x1="277.40" y1="225.26" x2="287.40" y2="225.26" stroke="url(#g65)"/>
<line x1="277.40" y1="232.27" x2="344.40" y2="232.27" stroke="url(#g66)"/>
<line x1="277.40" y1="224.46" x2="277.40" y2="233.07" stroke="#f0c438"/>
<line x1="256.50" y1="228.77" x2="277.40" y2="228.77" stroke="url(#g67)"/>
<line x1="263.70" y1="236.95" x2="283.50" y2="236.95" stroke="url(#g68)"/>
<line x1="263.70" y1="241.62" x2="370.40" y2="241.62" stroke="url(#g69)"/>
<line x1="263.70" y1="236.15" x2="263.70" y2="242.42" stroke="#d5ea33"/>
<line x1="256.50" y1="239.29" x2="263.70" y2="239.29" stroke="url(#g70)"/>
<line x1="276.00" y1="246.30" x2="333.80" y2="246.30" stroke="#efcf36"/>
<line x1="276.00" y1="250.97" x2="381.70" y2="250.97" stroke="url(#g71)"/>
<line x1="276.00" y1="245.50" x2="276.00" y2="251.77" stroke="#efcf36"/>
<line x1="256.50" y1="248.64" x2="276.00" y2="248.64" stroke="url(#g72)"/>
<line x1="256.50" y1="255.65" x2="397.10" y2="255.65" stroke="url(#g73)"/>
<line x1="256.50" y1="260.32" x2="303.50" y2="260.32" stroke="url(#g74)"/>
<line x1="256.50" y1="265.00" x2="319.60" y2="265.00" stroke="#eee531"/>
<line x1="256.50" y1="269.67" x2="366.50" y2="269.67" stroke="url(#g75)"/>
<line x1="256.50" y1="274.35" x2="346.70" y2="274.35" stroke="#eee531"/>
<line x1="256.50" y1="202.26" x2="256.50" y2="275.15" stroke="#eee531"/>
<line x1="243.20" y1="238.70" x2="256.50" y2="238.70" stroke="url(#g76)"/>
<line x1="314.60" y1="279.02" x2="361.00" y2="279.02" stroke="url(#g77)"/>
<line x1="314.60" y1="283.70" x2="356.30" y2="283.70" stroke="url(#g78)"/>
<line x1="314.60" y1="278.22" x2="314.60" y2="284.50" stroke="#c5ea36"/>
<line x1="277.40" y1="281.36" x2="314.60" y2="281.36" stroke="url(#g79)"/>
<line x1="277.40" y1="288.38" x2="390.00" y2="288.38" stroke="url(#g80)"/>
<line x1="277.40" y1="280.56" x2="277.40" y2="289.18" stroke="#eee531"/>
<line x1="243.20" y1="284.87" x2="277.40" y2="284.87" stroke="url(#g81)"/>
<line x1="297.20" y1="293.05" x2="368.80" y2="293.05" stroke="url(#g82)"/>
<line x1="297.20" y1="297.72" x2="346.70" y2="297.72" stroke="#eeaa37"/>
<line x1="297.20" y1="292.25" x2="297.20" y2="298.52" stroke="#eeaa37"/>
<line x1="243.20" y1="295.39" x2="297.20" y2="295.39" stroke="url(#g83)"/>
<line x1="243.20" y1="237.90" x2="243.20" y2="296.19" stroke="#efda33"/>
<line x1="194.60" y1="267.05" x2="243.20" y2="267.05" stroke="url(#g84)"/>
<line x1="259.50" y1="302.40" x2="297.00" y2="302.40" stroke="url(#g85)"/>
<line x1="259.50" y1="307.07" x2="311.50" y2="307.07" stroke="url(#g86)"/>
<line x1="259.50" y1="301.60" x2="259.50" y2="307.88" stroke="#d7442a"/>
<line x1="237.20" y1="304.74" x2="259.50" y2="304.74" stroke="url(#g87)"/>
<line x1="266.20" y1="311.75" x2="270.80" y2="311.75" stroke="url(#g88)"/>
<line x1="266.20" y1="316.42" x2="303.00" y2="316.42" stroke="url(#g89)"/>
<line x1="266.20" y1="310.95" x2="266.20" y2="317.22" stroke="#e3622f"/>
<line x1="237.20" y1="314.09" x2="266.20" y2="314.09" stroke="url(#g90)"/>
<line x1="237.20" y1="303.94" x2="237.20" y2="314.89" stroke="#e0572d"/>
<line x1="207.00" y1="309.41" x2="237.20" y2="309.41" stroke="url(#g91)"/>
<line x1="255.40" y1="321.10" x2="259.20" y2="321.10" stroke="url(#g92)"/>
<line x1="255.40" y1="325.77" x2="273.00" y2="325.77" stroke="url(#g93)"/>
<line x1="255.40" y1="320.30" x2="255.40" y2="326.57" stroke="#d7442a"/>
<line x1="236.20" y1="323.44" x2="255.40" y2="323.44" stroke="url(#g94)"/>
<line x1="236.20" y1="330.45" x2="240.80" y2="330.45" stroke="url(#g95)"/>
<line x1="236.20" y1="322.64" x2="236.20" y2="331.25" stroke="#de522c"/>
<line x1="207.00" y1="326.94" x2="236.20" y2="326.94" stroke="url(#g96)"/>
<line x1="207.00" y1="308.61" x2="207.00" y2="327.74" stroke="#e3622f"/>
<line x1="194.60" y1="318.18" x2="207.00" y2="318.18" stroke="url(#g97)"/>
<line x1="194.60" y1="266.25" x2="194.60" y2="318.98" stroke="#eeaf37"/>
<line x1="172.80" y1="292.61" x2="194.60" y2="292.61" stroke="#eeaf37"/>
<line x1="320.40" y1="335.12" x2="342.10" y2="335.12" stroke="url(#g98)"/>
<line x1="320.40" y1="339.80" x2="336.30" y2="339.80" stroke="url(#g99)"/>
<line x1="320.40" y1="334.32" x2="320.40" y2="340.60" stroke="#8be53e"/>
<line x1="307.30" y1="337.46" x2="320.40" y2="337.46" stroke="url(#g100)"/>
<line x1="322.00" y1="344.47" x2="391.00" y2="344.47" stroke="url(#g101)"/>
<line x1="322.00" y1="349.15" x2="334.40" y2="349.15" stroke="url(#g102)"/>
<line x1="322.00" y1="343.67" x2="322.00" y2="349.95" stroke="#eeea30"/>
<line x1="307.30" y1="346.81" x2="322.00" y2="346.81" stroke="#eeea30"/>
<line x1="307.30" y1="336.66" x2="307.30" y2="347.61" stroke="#eeea30"/>
<line x1="269.10" y1="342.14" x2="307.30" y2="342.14" stroke="url(#g103)"/>
<line x1="279.30" y1="353.82" x2="312.00" y2="353.82" stroke="url(#g104)"/>
<line x1="279.30" y1="358.50" x2="285.80" y2="358.50" stroke="url(#g105)"/>
<line x1="279.30" y1="353.02" x2="279.30" y2="359.30" stroke="#e46830"/>
<line x1="269.10" y1="356.16" x2="279.30" y2="356.16" stroke="url(#g106)"/>
<line x1="269.10" y1="341.34" x2="269.10" y2="356.96" stroke="#ec9a36"/>
<line x1="226.80" y1="349.15" x2="269.10" y2="349.15" stroke="url(#g107)"/>
<line x1="226.80" y1="363.17" x2="312.00" y2="363.17" stroke="url(#g108)"/>
<line x1="226.80" y1="348.35" x2="226.80" y2="363.97" stroke="#ea8e34"/>
<line x1="172.80" y1="356.16" x2="226.80" y2="356.16" stroke="url(#g109)"/>
<line x1="172.80" y1="147.09" x2="172.80" y2="356.96" stroke="#eeaf37"/>
<line x1="154.10" y1="252.03" x2="172.80" y2="252.03" stroke="#eeaf37"/>
<line x1="301.20" y1="367.85" x2="383.50" y2="367.85" stroke="url(#g110)"/>
<line x1="301.20" y1="372.52" x2="322.00" y2="372.52" stroke="url(#g111)"/>
<line x1="301.20" y1="367.05" x2="301.20" y2="373.32" stroke="#de522c"/>
<line x1="245.20" y1="370.19" x2="301.20" y2="370.19" stroke="url(#g112)"/>
<line x1="245.20" y1="377.20" x2="370.40" y2="377.20" stroke="url(#g113)"/>
<line x1="245.20" y1="369.39" x2="245.20" y2="378.00" stroke="#eeaf37"/>
<line x1="217.60" y1="373.69" x2="245.20" y2="373.69" stroke="url(#g114)"/>
<line x1="238.70" y1="381.88" x2="302.70" y2="381.88" stroke="url(#g115)"/>
<line x1="238.70" y1="386.55" x2="287.30" y2="386.55" stroke="url(#g116)"/>
<line x1="238.70" y1="381.07" x2="238.70" y2="387.35" stroke="#ec9a36"/>
<line x1="217.60" y1="384.21" x2="238.70" y2="384.21" stroke="url(#g117)"/>
<line x1="233.10" y1="391.22" x2="320.20" y2="391.22" stroke="url(#g118)"/>
<line x1="233.10" y1="395.90" x2="325.00" y2="395.90" stroke="url(#g119)"/>
<line x1="233.10" y1="390.42" x2="233.10" y2="396.70" stroke="#eee531"/>
<line x1="217.60" y1="393.56" x2="233.10" y2="393.56" stroke="url(#g120)"/>
<line x1="217.60" y1="400.57" x2="280.80" y2="400.57" stroke="url(#g121)"/>
<line x1="217.60" y1="372.89" x2="217.60" y2="401.38" stroke="#f0c438"/>
<line x1="210.90" y1="387.13" x2="217.60" y2="387.13" stroke="url(#g122)"/>
<line x1="271.20" y1="405.25" x2="304.50" y2="405.25" stroke="url(#g123)"/>
<line x1="271.20" y1="409.92" x2="301.80" y2="409.92" stroke="url(#g124)"/>
<line x1="271.20" y1="414.60" x2="305.40" y2="414.60" stroke="url(#g125)"/>
<line x1="271.20" y1="404.45" x2="271.20" y2="415.40" stroke="#e46830"/>
<line x1="237.80" y1="409.92" x2="271.20" y2="409.92" stroke="url(#g126)"/>
<line x1="265.70" y1="419.27" x2="313.00" y2="419.27" stroke="url(#g127)"/>
<line x1="265.70" y1="423.95" x2="356.70" y2="423.95" stroke="#ec9a36"/>
<line x1="265.70" y1="418.47" x2="265.70" y2="424.75" stroke="#ec9a36"/>
<line x1="237.80" y1="421.61" x2="265.70" y2="421.61" stroke="url(#g128)"/>
<line x1="237.80" y1="409.12" x2="237.80" y2="422.41" stroke="#eeaa37"/>
<line x1="210.90" y1="415.77" x2="237.80" y2="415.77" stroke="url(#g129)"/>
<line x1="243.60" y1="428.62" x2="272.30" y2="428.62" stroke="url(#g130)"/>
<line x1="243.60" y1="433.30" x2="283.00" y2="433.30" stroke="url(#g131)"/>
<line x1="243.60" y1="437.97" x2="258.50" y2="437.97" stroke="url(#g132)"/>
<line x1="243.60" y1="427.82" x2="243.60" y2="438.77" stroke="#8be53e"/>
<line x1="210.90" y1="433.30" x2="243.60" y2="433.30" stroke="url(#g133)"/>
<line x1="210.90" y1="442.65" x2="376.00" y2="442.65" stroke="url(#g134)"/>
<line x1="210.90" y1="447.32" x2="283.00" y2="447.32" stroke="url(#g135)"/>
<line x1="210.90" y1="452.00" x2="272.50" y2="452.00" stroke="url(#g136)"/>
<line x1="210.90" y1="456.67" x2="282.00" y2="456.67" stroke="url(#g137)"/>
<line x1="210.90" y1="386.33" x2="210.90" y2="457.47" stroke="#efda33"/>
<line x1="204.50" y1="421.90" x2="210.90" y2="421.90" stroke="#efda33"/>
<line x1="298.50" y1="461.35" x2="329.20" y2="461.35" stroke="url(#g138)"/>
<line x1="298.50" y1="466.02" x2="305.20" y2="466.02" stroke="url(#g139)"/>
<line x1="298.50" y1="460.55" x2="298.50" y2="466.82" stroke="#eeb437"/>
<line x1="290.80" y1="463.69" x2="298.50" y2="463.69" stroke="#eeb437"/>
<line x1="290.80" y1="470.70" x2="306.20" y2="470.70" stroke="url(#g140)"/>
<line x1="290.80" y1="462.89" x2="290.80" y2="471.50" stroke="#eeb437"/>
<line x1="254.40" y1="467.19" x2="290.80" y2="467.19" stroke="url(#g141)"/>
<line x1="254.40" y1="475.37" x2="309.00" y2="475.37" stroke="url(#g142)"/>
<line x1="254.40" y1="466.39" x2="254.40" y2="476.17" stroke="#eeaa37"/>
<line x1="204.50" y1="471.28" x2="254.40" y2="471.28" stroke="url(#g143)"/>
<line x1="204.50" y1="421.10" x2="204.50" y2="472.08" stroke="#efda33"/>
<line x1="189.00" y1="446.59" x2="204.50" y2="446.59" stroke="#efda33"/>
<line x1="189.00" y1="480.05" x2="273.80" y2="480.05" stroke="url(#g144)"/>
<line x1="189.00" y1="445.79" x2="189.00" y2="480.85" stroke="#efda33"/>
<line x1="168.80" y1="463.32" x2="189.00" y2="463.32" stroke="#efda33"/>
<line x1="283.00" y1="484.72" x2="302.50" y2="484.72" stroke="url(#g145)"/>
<line x1="283.00" y1="489.40" x2="291.50" y2="489.40" stroke="url(#g146)"/>
<line x1="283.00" y1="483.92" x2="283.00" y2="490.20" stroke="#de522c"/>
<line x1="251.40" y1="487.06" x2="283.00" y2="487.06" stroke="url(#g147)"/>
<line x1="251.40" y1="494.07" x2="270.30" y2="494.07" stroke="url(#g148)"/>
<line x1="251.40" y1="486.26" x2="251.40" y2="494.88" stroke="#ec9a36"/>
<line x1="234.10" y1="490.57" x2="251.40" y2="490.57" stroke="url(#g149)"/>
<line x1="234.10" y1="498.75" x2="268.80" y2="498.75" stroke="url(#g150)"/>
<line x1="234.10" y1="503.42" x2="302.70" y2="503.42" stroke="url(#g151)"/>
<line x1="234.10" y1="489.77" x2="234.10" y2="504.22" stroke="#f0c438"/>
<line x1="168.80" y1="497.00" x2="234.10" y2="497.00" stroke="url(#g152)"/>
<line x1="168.80" y1="462.52" x2="168.80" y2="497.80" stroke="#efda33"/>
<line x1="154.10" y1="480.16" x2="168.80" y2="480.16" stroke="url(#g153)"/>
<line x1="154.10" y1="251.23" x2="154.10" y2="480.96" stroke="#eeaf37"/>
<line x1="134.90" y1="366.09" x2="154.10" y2="366.09" stroke="#eeb437"/>
<line x1="255.00" y1="508.10" x2="267.70" y2="508.10" stroke="url(#g154)"/>
<line x1="255.00" y1="512.77" x2="308.50" y2="512.77" stroke="url(#g155)"/>
<line x1="255.00" y1="507.30" x2="255.00" y2="513.57" stroke="#d7442a"/>
<line x1="234.60" y1="510.44" x2="255.00" y2="510.44" stroke="url(#g156)"/>
<line x1="234.60" y1="517.45" x2="270.00" y2="517.45" stroke="url(#g157)"/>
<line x1="234.60" y1="522.12" x2="248.00" y2="522.12" stroke="url(#g158)"/>
<line x1="234.60" y1="509.64" x2="234.60" y2="522.92" stroke="#e25c2e"/>
<line x1="227.70" y1="516.28" x2="234.60" y2="516.28" stroke="#e25c2e"/>
<line x1="239.50" y1="526.80" x2="252.70" y2="526.80" stroke="#e25c2e"/>
<line x1="239.50" y1="531.48" x2="256.50" y2="531.48" stroke="url(#g159)"/>
<line x1="239.50" y1="526.00" x2="239.50" y2="532.27" stroke="#e25c2e"/>
<line x1="227.70" y1="529.14" x2="239.50" y2="529.14" stroke="#e25c2e"/>
<line x1="227.70" y1="536.15" x2="254.60" y2="536.15" stroke="url(#g160)"/>
<line x1="227.70" y1="540.83" x2="275.40" y2="540.83" stroke="url(#g161)"/>
<line x1="227.70" y1="515.48" x2="227.70" y2="541.62" stroke="#e25c2e"/>
<line x1="211.50" y1="528.55" x2="227.70" y2="528.55" stroke="#e25c2e"/>
<line x1="240.70" y1="545.50" x2="247.30" y2="545.50" stroke="url(#g162)"/>
<line x1="240.70" y1="550.18" x2="261.20" y2="550.18" stroke="#d7442a"/>
<line x1="240.70" y1="544.70" x2="240.70" y2="550.98" stroke="#d7442a"/>
<line x1="222.30" y1="547.84" x2="240.70" y2="547.84" stroke="url(#g163)"/>
<line x1="222.30" y1="554.85" x2="246.20" y2="554.85" stroke="url(#g164)"/>
<line x1="222.30" y1="547.04" x2="222.30" y2="555.65" stroke="#e25c2e"/>
<line x1="216.80" y1="551.34" x2="222.30" y2="551.34" stroke="#e25c2e"/>
<line x1="216.80" y1="559.52" x2="238.10" y2="559.52" stroke="url(#g165)"/>
<line x1="216.80" y1="550.54" x2="216.80" y2="560.32" stroke="#e25c2e"/>
<line x1="211.50" y1="555.43" x2="216.80" y2="555.43" stroke="#e25c2e"/>
<line x1="211.50" y1="527.75" x2="211.50" y2="556.23" stroke="#e25c2e"/>
<line x1="203.10" y1="541.99" x2="211.50" y2="541.99" stroke="#e25c2e"/>
<line x1="212.60" y1="564.20" x2="242.70" y2="564.20" stroke="#e77b32"/>
<line x1="212.60" y1="568.88" x2="221.80" y2="568.88" stroke="url(#g166)"/>
<line x1="212.60" y1="563.40" x2="212.60" y2="569.67" stroke="#e77b32"/>
<line x1="203.10" y1="566.54" x2="212.60" y2="566.54" stroke="url(#g167)"/>
<line x1="203.10" y1="541.19" x2="203.10" y2="567.34" stroke="#e25c2e"/>
<line x1="188.00" y1="554.27" x2="203.10" y2="554.27" stroke="url(#g168)"/>
<line x1="188.00" y1="573.55" x2="286.70" y2="573.55" stroke="url(#g169)"/>
<line x1="188.00" y1="553.47" x2="188.00" y2="574.35" stroke="#e77b32"/>
<line x1="176.60" y1="563.91" x2="188.00" y2="563.91" stroke="url(#g170)"/>
<line x1="271.90" y1="578.23" x2="308.80" y2="578.23" stroke="url(#g171)"/>
<line x1="271.90" y1="582.90" x2="317.50" y2="582.90" stroke="url(#g172)"/>
<line x1="271.90" y1="577.43" x2="271.90" y2="583.70" stroke="#63e044"/>
<line x1="207.00" y1="580.56" x2="271.90" y2="580.56" stroke="url(#g173)"/>
<line x1="207.00" y1="587.58" x2="265.20" y2="587.58" stroke="url(#g174)"/>
<line x1="207.00" y1="579.76" x2="207.00" y2="588.38" stroke="#eeea30"/>
<line x1="176.60" y1="584.07" x2="207.00" y2="584.07" stroke="url(#g175)"/>
<line x1="176.60" y1="563.11" x2="176.60" y2="584.87" stroke="#ec9a36"/>
<line x1="155.10" y1="573.99" x2="176.60" y2="573.99" stroke="url(#g176)"/>
<line x1="200.80" y1="592.25" x2="266.20" y2="592.25" stroke="url(#g177)"/>
<line x1="200.80" y1="596.93" x2="269.00" y2="596.93" stroke="url(#g178)"/>
<line x1="200.80" y1="591.45" x2="200.80" y2="597.73" stroke="#c5ea36"/>
<line x1="155.10" y1="594.59" x2="200.80" y2="594.59" stroke="url(#g179)"/>
<line x1="177.70" y1="601.60" x2="223.80" y2="601.60" stroke="url(#g180)"/>
<line x1="177.70" y1="606.27" x2="200.80" y2="606.27" stroke="#eeea30"/>
<line x1="177.70" y1="600.80" x2="177.70" y2="607.07" stroke="#eeea30"/>
<line x1="155.10" y1="603.94" x2="177.70" y2="603.94" stroke="url(#g181)"/>
<line x1="155.10" y1="573.19" x2="155.10" y2="604.74" stroke="#f0c438"/>
<line x1="143.60" y1="588.96" x2="155.10" y2="588.96" stroke="#f0c438"/>
<line x1="143.60" y1="610.95" x2="204.00" y2="610.95" stroke="url(#g182)"/>
<line x1="143.60" y1="588.16" x2="143.60" y2="611.75" stroke="#f0c438"/>
<line x1="134.90" y1="599.96" x2="143.60" y2="599.96" stroke="url(#g183)"/>
<line x1="134.90" y1="365.29" x2="134.90" y2="600.76" stroke="#eeb437"/>
<line x1="126.10" y1="483.02" x2="134.90" y2="483.02" stroke="url(#g184)"/>
<line x1="126.10" y1="615.62" x2="160.80" y2="615.62" stroke="url(#g185)"/>
<line x1="126.10" y1="482.22" x2="126.10" y2="616.42" stroke="#ec9f36"/>
<line x1="98.70" y1="549.32" x2="126.10" y2="549.32" stroke="url(#g186)"/>
<line x1="137.90" y1="620.30" x2="160.80" y2="620.30" stroke="url(#g187)"/>
<line x1="137.90" y1="624.98" x2="173.00" y2="624.98" stroke="#b4ea38"/>
<line x1="137.90" y1="619.50" x2="137.90" y2="625.77" stroke="#b4ea38"/>
<line x1="98.70" y1="622.64" x2="137.90" y2="622.64" stroke="url(#g188)"/>
<line x1="98.70" y1="548.52" x2="98.70" y2="623.44" stroke="#eeea30"/>
<line x1="93.50" y1="585.98" x2="98.70" y2="585.98" stroke="#eeea30"/>
</g>
<g transform="scale(0.945,1)" font-style="italic" font-size="6.00" fill="#1e1e1e" stroke="#222" stroke-width="0.18">
<text x="467.20" y="4.91">Tripleurospermum</text>
<text x="493.12" y="9.59">Cota</text>
<text x="459.05" y="14.26">Tanacetum</text>
<text x="476.83" y="18.93">Anacyclus</text>
<text x="470.90" y="23.61">Achillea</text>
<text x="459.47" y="28.29">JMatricaria</text>
<text x="412.91" y="32.96">Gonospermum</text>
<text x="487.62" y="37.64">Glebionis</text>
<text x="461.38" y="42.31">Argyranthemum</text>
<text x="450.58" y="46.98">Chamaemelum</text>
<text x="473.76" y="51.66">Chrysanthemum</text>
<text x="425.40" y="56.33">Ajania</text>
<text x="420.42" y="61.01">Artemisia</text>
<text x="420.11" y="65.69">Leucanthemella</text>
<text x="420.11" y="70.36">Kaschgaria</text>
<text x="435.98" y="75.03">Cancrinia</text>
<text x="438.10" y="79.71">Cotula</text>
<text x="402.01" y="84.38">Tripolium</text>
<text x="387.30" y="89.06">Symphyotrichum</text>
<text x="382.01" y="93.73">Machaeranthera</text>
<text x="377.78" y="98.41">Solidago</text>
<text x="409.31" y="103.08">Erigeron</text>
<text x="386.46" y="107.76">Brachyscome</text>
<text x="415.34" y="112.43">Bellium</text>
<text x="434.39" y="117.11">Bellis</text>
<text x="377.78" y="121.78">Baccharis</text>
<text x="373.54" y="126.46">Conyza</text>
<text x="455.03" y="131.13">Aster</text>
<text x="380.74" y="135.81">Gamochaeta</text>
<text x="393.97" y="140.48">Bombycilaena</text>
<text x="425.08" y="145.16">Craspedia</text>
<text x="358.94" y="149.83">Logfia</text>
<text x="383.07" y="154.51">Filago</text>
<text x="354.71" y="159.19">Leontopodium</text>
<text x="424.55" y="163.86">Ifloga</text>
<text x="295.87" y="168.53">Phagnalon</text>
<text x="416.40" y="173.21">Calendula</text>
<text x="386.67" y="177.88">Xanthium</text>
<text x="379.37" y="182.56">Iva</text>
<text x="389.74" y="187.23">Zinnia</text>
<text x="353.23" y="191.91">Ambrosia</text>
<text x="379.68" y="196.58">Parthenium</text>
<text x="364.02" y="201.26">Silphium</text>
<text x="403.49" y="205.94">Lindheimera</text>
<text x="319.58" y="210.61">Engelmannia</text>
<text x="353.86" y="215.28">Ratibida</text>
<text x="334.39" y="219.96">Rudbeckia</text>
<text x="340.21" y="224.63">Eupatorium</text>
<text x="386.88" y="229.31">Ageratum</text>
<text x="367.94" y="233.98">Liatris</text>
<text x="303.39" y="238.66">Tetragonotheca</text>
<text x="394.50" y="243.33">Polymnia</text>
<text x="355.77" y="248.01">Palafoxia</text>
<text x="406.56" y="252.68">Melampodium</text>
<text x="422.86" y="257.36">Calycadenia</text>
<text x="323.81" y="262.04">Ageratina</text>
<text x="341.27" y="266.71">Guizotia</text>
<text x="390.26" y="271.38">Galinsoga</text>
<text x="369.74" y="276.06">Eclipta</text>
<text x="384.87" y="280.74">Helenium</text>
<text x="379.58" y="285.41">Gaillardia</text>
<text x="415.13" y="290.09">Hymenoxys</text>
<text x="393.44" y="294.76">Cosmos</text>
<text x="369.52" y="299.44">Coreopsis</text>
<text x="317.46" y="304.11">Pallenis</text>
<text x="332.06" y="308.79">Jasonia</text>
<text x="289.74" y="313.46">Telekia</text>
<text x="322.75" y="318.13">Inula</text>
<text x="277.57" y="322.81">Vieraea</text>
<text x="291.43" y="327.49">Schizogyne</text>
<text x="257.99" y="332.16">Allagopappus</text>
<text x="364.66" y="336.84">Senecio</text>
<text x="358.41" y="341.51">Lasiocephalus</text>
<text x="416.40" y="346.19">Kleinia</text>
<text x="356.61" y="350.86">Delairea</text>
<text x="332.80" y="355.54">Tussilago</text>
<text x="305.61" y="360.21">Petasites</text>
<text x="332.80" y="364.88">Syneilesis</text>
<text x="407.83" y="369.56">Rhagadiolus</text>
<text x="343.07" y="374.24">Lapsana</text>
<text x="393.97" y="378.91">Crepis</text>
<text x="323.81" y="383.59">Sonchus</text>
<text x="307.30" y="388.26">Reichardia</text>
<text x="341.80" y="392.94">Taraxacum</text>
<text x="346.98" y="397.61">Askellia</text>
<text x="300.53" y="402.29">Youngia</text>
<text x="325.19" y="406.96">Picris</text>
<text x="321.90" y="411.63">Leontodon</text>
<text x="325.93" y="416.31">Helminthotheca</text>
<text x="334.18" y="420.99">Scorzoneroides</text>
<text x="380.11" y="425.66">Hypochaeris</text>
<text x="291.43" y="430.34">Phalacroseris</text>
<text x="302.86" y="435.01">Microseris</text>
<text x="275.98" y="439.69">Agoseris</text>
<text x="400.95" y="444.36">Tolpis</text>
<text x="302.01" y="449.04">Pyrrhopappus</text>
<text x="291.01" y="453.71">Lactuca</text>
<text x="301.16" y="458.38">Krigia</text>
<text x="350.37" y="463.06">Pilosella</text>
<text x="325.61" y="467.74">Hieracium</text>
<text x="325.93" y="472.41">Andryala</text>
<text x="328.68" y="477.08">Urospermum</text>
<text x="293.12" y="481.76">Tragopogon</text>
<text x="323.60" y="486.44">Vernonia</text>
<text x="311.43" y="491.11">Lessingianthus</text>
<text x="289.10" y="495.79">Vernonanthura</text>
<text x="287.62" y="500.46">Chrysolaena</text>
<text x="323.60" y="505.13">Stokesia</text>
<text x="285.71" y="509.81">Centaurea</text>
<text x="329.42" y="514.48">Carthamus</text>
<text x="288.78" y="519.16">Myopordon</text>
<text x="265.40" y="523.83">Klasea</text>
<text x="269.84" y="528.51">Oligochaeta</text>
<text x="274.50" y="533.18">Rhaponticum</text>
<text x="273.02" y="537.86">Cheirolophus</text>
<text x="294.18" y="542.53">Callicephalus</text>
<text x="264.97" y="547.21">Silybum</text>
<text x="279.37" y="551.88">Cirsium</text>
<text x="263.28" y="556.56">Ptilostemon</text>
<text x="255.03" y="561.23">Cynara</text>
<text x="260.11" y="565.91">Olgaea</text>
<text x="237.57" y="570.58">Onopordum</text>
<text x="306.46" y="575.26">Staehelina</text>
<text x="329.31" y="579.93">Xeranthemum</text>
<text x="338.62" y="584.61">Siebera</text>
<text x="283.28" y="589.28">Chardinia</text>
<text x="284.66" y="593.96">Carlina</text>
<text x="287.30" y="598.63">Atractylis</text>
<text x="239.89" y="603.31">Echinops</text>
<text x="215.77" y="607.98">Acantholepis</text>
<text x="218.31" y="612.66">Ainsliaea</text>
<text x="172.70" y="617.33">Gochnatia</text>
<text x="172.70" y="622.01">Fulcaldea</text>
<text x="185.61" y="626.68">Dasyphyllum</text>
</g>

<!-- clade labels -->
<g font-size="10.3" fill="#141414" stroke="#141414" stroke-width="0.2">
<text x="235.6" y="60.8">A1</text>
<text x="302.1" y="107.5">A2</text>
<text x="219.1" y="159.3">A3</text>
<text x="229" y="264.6">A4</text>
<text x="192.8" y="327.6">A5</text>
<text x="212.8" y="353.8">A6</text>
<text x="162" y="247.3">A</text>
<text x="158" y="476.7">B</text>
<text x="145.8" y="586.5">C</text>
</g>
<text x="92.4" y="585.6" font-size="7" fill="#111">&#9733;</text>

<!-- inset box plot -->
<g>
<rect x="373.5" y="455.2" width="144.4" height="145" fill="#ebebeb"/>
<g stroke="#fff" stroke-width="0.5">
<line x1="373.5" x2="517.9" y1="572.7" y2="572.7"/>
<line x1="373.5" x2="517.9" y1="523.7" y2="523.7"/>
<line x1="373.5" x2="517.9" y1="474.7" y2="474.7"/>
</g>
<g stroke="#fff" stroke-width="1">
<line x1="373.5" x2="517.9" y1="597.2" y2="597.2"/>
<line x1="373.5" x2="517.9" y1="548.5" y2="548.5"/>
<line x1="373.5" x2="517.9" y1="499.3" y2="499.3"/>
<line x1="399.8" x2="399.8" y1="455.2" y2="600.2"/>
<line x1="445.2" x2="445.2" y1="455.2" y2="600.2"/>
<line x1="490.6" x2="490.6" y1="455.2" y2="600.2"/>
</g>
<g stroke="#333" stroke-width="0.6">
<line x1="371.3" x2="373.5" y1="597.2" y2="597.2"/>
<line x1="371.3" x2="373.5" y1="548.5" y2="548.5"/>
<line x1="371.3" x2="373.5" y1="499.3" y2="499.3"/>
<line x1="399.8" x2="399.8" y1="600.2" y2="602"/>
<line x1="445.2" x2="445.2" y1="600.2" y2="602"/>
<line x1="490.6" x2="490.6" y1="600.2" y2="602"/>
</g>
<g font-size="5.8" fill="#555" text-anchor="end">
<text x="370.6" y="599.3">0</text>
<text x="370.6" y="550.6">10</text>
<text x="370.6" y="501.4">20</text>
</g>
<text transform="translate(367.4,521.5) rotate(-90)" font-size="5.8" fill="#222" text-anchor="middle">2C (pg)</text>
<g font-size="6.1" fill="#555" text-anchor="middle">
<text x="399.8" y="606.2">Carduoideae</text>
<text x="445.2" y="606.2">Cichorioideae</text>
<text x="490.6" y="606.2">Asteroideae</text>
</g>
<text x="445.5" y="614.2" font-size="6.6" fill="#1a1a1a" stroke="#1a1a1a" stroke-width="0.12" text-anchor="middle">subfamily</text>
<!-- boxes -->
<g stroke="#222" stroke-width="0.75" fill="#fff">
<line x1="399.8" x2="399.8" y1="566.9" y2="578.8"/>
<line x1="399.8" x2="399.8" y1="587.5" y2="591.3"/>
<rect x="383.1" y="578.8" width="34" height="8.7"/>
<line x1="445.2" x2="445.2" y1="533.3" y2="563.1"/>
<line x1="445.2" x2="445.2" y1="583.8" y2="591.2"/>
<rect x="428.1" y="563.1" width="34.6" height="20.7"/>
<line x1="490.6" x2="490.6" y1="515.3" y2="553.5"/>
<line x1="490.6" x2="490.6" y1="579" y2="593.8"/>
<rect x="473.3" y="553.5" width="34.6" height="25.5"/>
</g>
<g stroke="#111" stroke-width="1.3">
<line x1="383.1" x2="417.1" y1="584.2" y2="584.2"/>
<line x1="428.1" x2="462.7" y1="577.5" y2="577.5"/>
<line x1="473.3" x2="507.9" y1="568" y2="568"/>
</g>
<!-- outliers -->
<g fill="#222">
<circle cx="399.8" cy="514" r="0.9"/>
<rect x="398.95" y="528.5" width="1.7" height="10.5"/>
<rect x="398.95" y="546" width="1.7" height="3.6"/>
<rect x="398.95" y="551.5" width="1.7" height="15"/>
<circle cx="445.2" cy="497.3" r="0.9"/>
<rect x="444.35" y="503.8" width="1.7" height="5.4"/>
<circle cx="445.2" cy="516.9" r="0.9"/>
<rect x="444.35" y="526.9" width="1.7" height="5.8"/>
<circle cx="490.6" cy="462" r="0.9"/>
<rect x="489.75" y="490.6" width="1.7" height="4.6"/>
<rect x="489.75" y="508" width="1.7" height="7"/>
</g>
</g>

<!-- colour legend -->
<defs>
<linearGradient id="cbar" x1="0" x2="1" y1="0" y2="0">
<stop offset="0" stop-color="#5a1020"/>
<stop offset="0.04" stop-color="#a02828"/>
<stop offset="0.12" stop-color="#b84030"/>
<stop offset="0.22" stop-color="#c49040"/>
<stop offset="0.3" stop-color="#b4bc40"/>
<stop offset="0.42" stop-color="#60b840"/>
<stop offset="0.5" stop-color="#30b050"/>
<stop offset="0.65" stop-color="#20a090"/>
<stop offset="0.75" stop-color="#2070b0"/>
<stop offset="0.85" stop-color="#2040a0"/>
<stop offset="1" stop-color="#101058"/>
</linearGradient>
</defs>
<rect x="219.2" y="630.9" width="165" height="1.8" fill="url(#cbar)"/>
<g font-size="5.9" fill="#1e1e1e">
<text x="218.6" y="625.6">1.14 pg</text>
<text x="275.6" y="625.6">Genome size (2C)</text>
<text x="361.4" y="626">21.66 pg</text>
<text x="284.4" y="640.2">length=0.03</text>
</g>
</svg>
</body></html>
